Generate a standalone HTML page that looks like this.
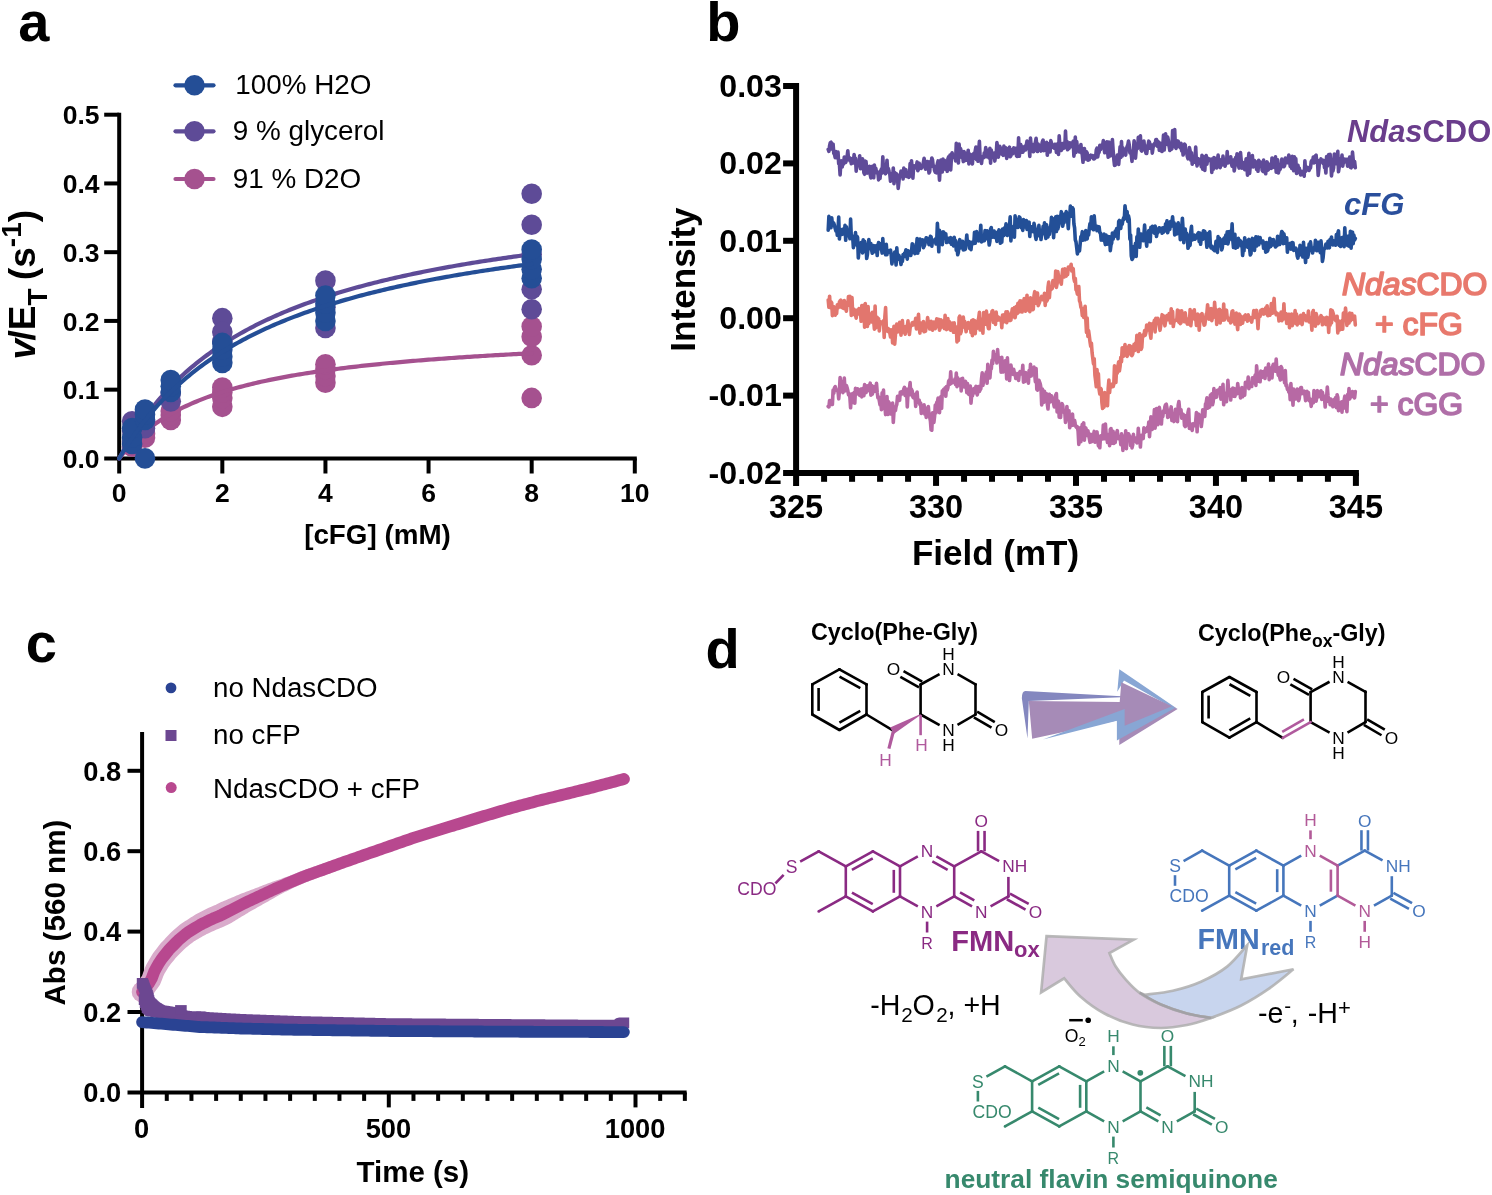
<!DOCTYPE html>
<html><head><meta charset="utf-8"><title>Figure</title>
<style>
html,body{margin:0;padding:0;background:#fff;}
svg{display:block;font-family:"Liberation Sans", Arial, Helvetica, sans-serif;will-change:transform;}
</style></head><body>
<svg width="1492" height="1195" viewBox="0 0 1492 1195">
<rect width="1492" height="1195" fill="#fff"/>
<text x="18.2" y="40.6" font-size="56" font-weight="bold" font-style="normal" text-anchor="start" fill="#000" >a</text>
<line x1="119.2" y1="112.7" x2="119.2" y2="473.5" stroke="#000" stroke-width="4" stroke-linecap="butt" />
<line x1="104.2" y1="458.4" x2="636.8" y2="458.4" stroke="#000" stroke-width="4" stroke-linecap="butt" />
<line x1="104.2" y1="389.66" x2="119.2" y2="389.66" stroke="#000" stroke-width="4" stroke-linecap="butt" />
<line x1="104.2" y1="320.92" x2="119.2" y2="320.92" stroke="#000" stroke-width="4" stroke-linecap="butt" />
<line x1="104.2" y1="252.18" x2="119.2" y2="252.18" stroke="#000" stroke-width="4" stroke-linecap="butt" />
<line x1="104.2" y1="183.44" x2="119.2" y2="183.44" stroke="#000" stroke-width="4" stroke-linecap="butt" />
<line x1="104.2" y1="114.7" x2="119.2" y2="114.7" stroke="#000" stroke-width="4" stroke-linecap="butt" />
<line x1="222.32" y1="458.4" x2="222.32" y2="473.5" stroke="#000" stroke-width="4" stroke-linecap="butt" />
<line x1="325.44" y1="458.4" x2="325.44" y2="473.5" stroke="#000" stroke-width="4" stroke-linecap="butt" />
<line x1="428.56" y1="458.4" x2="428.56" y2="473.5" stroke="#000" stroke-width="4" stroke-linecap="butt" />
<line x1="531.68" y1="458.4" x2="531.68" y2="473.5" stroke="#000" stroke-width="4" stroke-linecap="butt" />
<line x1="634.8" y1="458.4" x2="634.8" y2="473.5" stroke="#000" stroke-width="4" stroke-linecap="butt" />
<text x="99.6" y="468" font-size="26.5" font-weight="bold" font-style="normal" text-anchor="end" fill="#000" >0.0</text>
<text x="99.6" y="399.26" font-size="26.5" font-weight="bold" font-style="normal" text-anchor="end" fill="#000" >0.1</text>
<text x="99.6" y="330.52" font-size="26.5" font-weight="bold" font-style="normal" text-anchor="end" fill="#000" >0.2</text>
<text x="99.6" y="261.78" font-size="26.5" font-weight="bold" font-style="normal" text-anchor="end" fill="#000" >0.3</text>
<text x="99.6" y="193.04" font-size="26.5" font-weight="bold" font-style="normal" text-anchor="end" fill="#000" >0.4</text>
<text x="99.6" y="124.3" font-size="26.5" font-weight="bold" font-style="normal" text-anchor="end" fill="#000" >0.5</text>
<text x="119.2" y="502.3" font-size="26.5" font-weight="bold" font-style="normal" text-anchor="middle" fill="#000" >0</text>
<text x="222.32" y="502.3" font-size="26.5" font-weight="bold" font-style="normal" text-anchor="middle" fill="#000" >2</text>
<text x="325.44" y="502.3" font-size="26.5" font-weight="bold" font-style="normal" text-anchor="middle" fill="#000" >4</text>
<text x="428.56" y="502.3" font-size="26.5" font-weight="bold" font-style="normal" text-anchor="middle" fill="#000" >6</text>
<text x="531.68" y="502.3" font-size="26.5" font-weight="bold" font-style="normal" text-anchor="middle" fill="#000" >8</text>
<text x="634.8" y="502.3" font-size="26.5" font-weight="bold" font-style="normal" text-anchor="middle" fill="#000" >10</text>
<text x="377.5" y="544" font-size="27.8" font-weight="bold" font-style="normal" text-anchor="middle" fill="#000" >[cFG] (mM)</text>
<text transform="translate(35,359.5) rotate(-90)" font-size="37" font-weight="bold"><tspan font-style="italic">v</tspan><tspan dx="-1.5">/E</tspan><tspan font-size="28" dy="12">T</tspan><tspan dy="-12" dx="-2"> (s</tspan><tspan font-size="28" dy="-13.6">-1</tspan><tspan dy="13.6">)</tspan></text>
<circle cx="132.09" cy="446.71" r="10.3" fill="#A5518F"/>
<circle cx="132.09" cy="441.9" r="10.3" fill="#A5518F"/>
<circle cx="144.98" cy="437.78" r="10.3" fill="#A5518F"/>
<circle cx="144.98" cy="433.65" r="10.3" fill="#A5518F"/>
<circle cx="170.76" cy="419.91" r="10.3" fill="#A5518F"/>
<circle cx="170.76" cy="415.09" r="10.3" fill="#A5518F"/>
<circle cx="170.76" cy="410.97" r="10.3" fill="#A5518F"/>
<circle cx="222.32" cy="406.84" r="10.3" fill="#A5518F"/>
<circle cx="222.32" cy="397.91" r="10.3" fill="#A5518F"/>
<circle cx="222.32" cy="392.41" r="10.3" fill="#A5518F"/>
<circle cx="222.32" cy="387.6" r="10.3" fill="#A5518F"/>
<circle cx="325.44" cy="382.79" r="10.3" fill="#A5518F"/>
<circle cx="325.44" cy="375.91" r="10.3" fill="#A5518F"/>
<circle cx="325.44" cy="369.04" r="10.3" fill="#A5518F"/>
<circle cx="325.44" cy="364.23" r="10.3" fill="#A5518F"/>
<circle cx="531.68" cy="397.91" r="10.3" fill="#A5518F"/>
<circle cx="531.68" cy="355.29" r="10.3" fill="#A5518F"/>
<circle cx="531.68" cy="336.73" r="10.3" fill="#A5518F"/>
<circle cx="531.68" cy="326.42" r="10.3" fill="#A5518F"/>
<polyline points="119.2,458.4 121.78,455.12 124.36,452 126.93,449.03 129.51,446.19 132.09,443.49 134.67,440.91 137.25,438.44 139.82,436.07 142.4,433.81 144.98,431.64 147.56,429.55 150.14,427.55 152.71,425.62 155.29,423.77 157.87,421.99 160.45,420.27 163.03,418.61 165.6,417.01 168.18,415.47 170.76,413.98 173.34,412.54 175.92,411.14 178.49,409.79 181.07,408.49 183.65,407.22 186.23,406 188.81,404.81 191.38,403.65 193.96,402.54 196.54,401.45 199.12,400.39 201.7,399.37 204.27,398.37 206.85,397.4 209.43,396.46 212.01,395.54 214.59,394.65 217.16,393.78 219.74,392.93 222.32,392.1 224.9,391.3 227.48,390.51 230.05,389.74 232.63,389 235.21,388.27 237.79,387.55 240.37,386.86 242.94,386.18 245.52,385.51 248.1,384.86 250.68,384.23 253.26,383.6 255.83,383 258.41,382.4 260.99,381.82 263.57,381.25 266.15,380.69 268.72,380.14 271.3,379.61 273.88,379.08 276.46,378.57 279.04,378.07 281.61,377.57 284.19,377.09 286.77,376.61 289.35,376.15 291.93,375.69 294.5,375.24 297.08,374.8 299.66,374.37 302.24,373.95 304.82,373.53 307.39,373.12 309.97,372.72 312.55,372.32 315.13,371.94 317.71,371.55 320.28,371.18 322.86,370.81 325.44,370.45 328.02,370.09 330.6,369.74 333.17,369.4 335.75,369.06 338.33,368.73 340.91,368.4 343.49,368.08 346.06,367.76 348.64,367.45 351.22,367.14 353.8,366.83 356.38,366.54 358.95,366.24 361.53,365.95 364.11,365.67 366.69,365.39 369.27,365.11 371.84,364.84 374.42,364.57 377,364.3 379.58,364.04 382.16,363.78 384.73,363.53 387.31,363.28 389.89,363.03 392.47,362.79 395.05,362.55 397.62,362.31 400.2,362.08 402.78,361.85 405.36,361.62 407.94,361.4 410.51,361.18 413.09,360.96 415.67,360.74 418.25,360.53 420.83,360.32 423.4,360.11 425.98,359.91 428.56,359.71 431.14,359.51 433.72,359.31 436.29,359.11 438.87,358.92 441.45,358.73 444.03,358.54 446.61,358.36 449.18,358.17 451.76,357.99 454.34,357.81 456.92,357.64 459.5,357.46 462.07,357.29 464.65,357.12 467.23,356.95 469.81,356.78 472.39,356.62 474.96,356.46 477.54,356.3 480.12,356.14 482.7,355.98 485.28,355.82 487.85,355.67 490.43,355.52 493.01,355.36 495.59,355.22 498.17,355.07 500.74,354.92 503.32,354.78 505.9,354.63 508.48,354.49 511.06,354.35 513.63,354.21 516.21,354.08 518.79,353.94 521.37,353.81 523.95,353.68 526.52,353.54 529.1,353.41 531.68,353.28" fill="none" stroke="#A5518F" stroke-width="4.2" stroke-linejoin="round" stroke-linecap="round"/>
<circle cx="132.09" cy="421.28" r="10.3" fill="#5E4B97"/>
<circle cx="132.09" cy="430.9" r="10.3" fill="#5E4B97"/>
<circle cx="144.98" cy="428.15" r="10.3" fill="#5E4B97"/>
<circle cx="144.98" cy="420.59" r="10.3" fill="#5E4B97"/>
<circle cx="170.76" cy="401.35" r="10.3" fill="#5E4B97"/>
<circle cx="170.76" cy="393.1" r="10.3" fill="#5E4B97"/>
<circle cx="222.32" cy="318.17" r="10.3" fill="#5E4B97"/>
<circle cx="222.32" cy="331.92" r="10.3" fill="#5E4B97"/>
<circle cx="222.32" cy="341.54" r="10.3" fill="#5E4B97"/>
<circle cx="325.44" cy="280.64" r="10.3" fill="#5E4B97"/>
<circle cx="325.44" cy="328.07" r="10.3" fill="#5E4B97"/>
<circle cx="325.44" cy="307.17" r="10.3" fill="#5E4B97"/>
<circle cx="531.68" cy="193.75" r="10.3" fill="#5E4B97"/>
<circle cx="531.68" cy="224.68" r="10.3" fill="#5E4B97"/>
<circle cx="531.68" cy="254.24" r="10.3" fill="#5E4B97"/>
<circle cx="531.68" cy="289.3" r="10.3" fill="#5E4B97"/>
<circle cx="531.68" cy="309.23" r="10.3" fill="#5E4B97"/>
<polyline points="119.2,458.4 121.78,453.65 124.36,449.06 126.93,444.62 129.51,440.33 132.09,436.18 134.67,432.15 137.25,428.25 139.82,424.47 142.4,420.81 144.98,417.25 147.56,413.79 150.14,410.44 152.71,407.18 155.29,404.01 157.87,400.93 160.45,397.94 163.03,395.02 165.6,392.19 168.18,389.42 170.76,386.73 173.34,384.11 175.92,381.55 178.49,379.05 181.07,376.62 183.65,374.25 186.23,371.93 188.81,369.67 191.38,367.46 193.96,365.3 196.54,363.19 199.12,361.13 201.7,359.12 204.27,357.15 206.85,355.22 209.43,353.34 212.01,351.49 214.59,349.69 217.16,347.92 219.74,346.19 222.32,344.49 224.9,342.83 227.48,341.2 230.05,339.61 232.63,338.04 235.21,336.51 237.79,335.01 240.37,333.53 242.94,332.09 245.52,330.67 248.1,329.27 250.68,327.9 253.26,326.56 255.83,325.24 258.41,323.95 260.99,322.68 263.57,321.43 266.15,320.2 268.72,319 271.3,317.81 273.88,316.65 276.46,315.5 279.04,314.37 281.61,313.27 284.19,312.18 286.77,311.11 289.35,310.05 291.93,309.01 294.5,307.99 297.08,306.99 299.66,306 302.24,305.03 304.82,304.07 307.39,303.13 309.97,302.2 312.55,301.28 315.13,300.38 317.71,299.49 320.28,298.62 322.86,297.76 325.44,296.91 328.02,296.07 330.6,295.24 333.17,294.43 335.75,293.63 338.33,292.84 340.91,292.06 343.49,291.29 346.06,290.53 348.64,289.78 351.22,289.04 353.8,288.32 356.38,287.6 358.95,286.89 361.53,286.19 364.11,285.5 366.69,284.82 369.27,284.15 371.84,283.48 374.42,282.83 377,282.18 379.58,281.54 382.16,280.91 384.73,280.29 387.31,279.68 389.89,279.07 392.47,278.47 395.05,277.88 397.62,277.29 400.2,276.71 402.78,276.14 405.36,275.58 407.94,275.02 410.51,274.47 413.09,273.92 415.67,273.38 418.25,272.85 420.83,272.32 423.4,271.8 425.98,271.29 428.56,270.78 431.14,270.28 433.72,269.78 436.29,269.29 438.87,268.8 441.45,268.32 444.03,267.84 446.61,267.37 449.18,266.91 451.76,266.45 454.34,265.99 456.92,265.54 459.5,265.09 462.07,264.65 464.65,264.21 467.23,263.78 469.81,263.35 472.39,262.93 474.96,262.51 477.54,262.1 480.12,261.69 482.7,261.28 485.28,260.88 487.85,260.48 490.43,260.08 493.01,259.69 495.59,259.31 498.17,258.92 500.74,258.55 503.32,258.17 505.9,257.8 508.48,257.43 511.06,257.06 513.63,256.7 516.21,256.35 518.79,255.99 521.37,255.64 523.95,255.29 526.52,254.95 529.1,254.61 531.68,254.27" fill="none" stroke="#5E4B97" stroke-width="4.2" stroke-linejoin="round" stroke-linecap="round"/>
<circle cx="132.09" cy="443.96" r="10.3" fill="#244E96"/>
<circle cx="132.09" cy="437.78" r="10.3" fill="#244E96"/>
<circle cx="132.09" cy="428.15" r="10.3" fill="#244E96"/>
<circle cx="144.98" cy="458.4" r="10.3" fill="#244E96"/>
<circle cx="144.98" cy="419.91" r="10.3" fill="#244E96"/>
<circle cx="144.98" cy="414.41" r="10.3" fill="#244E96"/>
<circle cx="144.98" cy="409.59" r="10.3" fill="#244E96"/>
<circle cx="170.76" cy="392.07" r="10.3" fill="#244E96"/>
<circle cx="170.76" cy="386.22" r="10.3" fill="#244E96"/>
<circle cx="170.76" cy="380.04" r="10.3" fill="#244E96"/>
<circle cx="222.32" cy="362.85" r="10.3" fill="#244E96"/>
<circle cx="222.32" cy="356.66" r="10.3" fill="#244E96"/>
<circle cx="222.32" cy="349.79" r="10.3" fill="#244E96"/>
<circle cx="222.32" cy="342.92" r="10.3" fill="#244E96"/>
<circle cx="325.44" cy="320.92" r="10.3" fill="#244E96"/>
<circle cx="325.44" cy="312.67" r="10.3" fill="#244E96"/>
<circle cx="325.44" cy="303.74" r="10.3" fill="#244E96"/>
<circle cx="325.44" cy="295.49" r="10.3" fill="#244E96"/>
<circle cx="531.68" cy="278.3" r="10.3" fill="#244E96"/>
<circle cx="531.68" cy="269.37" r="10.3" fill="#244E96"/>
<circle cx="531.68" cy="259.05" r="10.3" fill="#244E96"/>
<circle cx="531.68" cy="249.43" r="10.3" fill="#244E96"/>
<polyline points="119.2,458.4 121.78,454.05 124.36,449.83 126.93,445.75 129.51,441.8 132.09,437.97 134.67,434.25 137.25,430.64 139.82,427.14 142.4,423.73 144.98,420.43 147.56,417.21 150.14,414.09 152.71,411.05 155.29,408.09 157.87,405.21 160.45,402.4 163.03,399.67 165.6,397.01 168.18,394.41 170.76,391.88 173.34,389.41 175.92,387 178.49,384.64 181.07,382.35 183.65,380.1 186.23,377.91 188.81,375.77 191.38,373.68 193.96,371.63 196.54,369.63 199.12,367.67 201.7,365.76 204.27,363.88 206.85,362.05 209.43,360.25 212.01,358.49 214.59,356.77 217.16,355.08 219.74,353.43 222.32,351.81 224.9,350.22 227.48,348.66 230.05,347.13 232.63,345.63 235.21,344.16 237.79,342.72 240.37,341.3 242.94,339.91 245.52,338.54 248.1,337.2 250.68,335.89 253.26,334.59 255.83,333.32 258.41,332.08 260.99,330.85 263.57,329.65 266.15,328.46 268.72,327.3 271.3,326.15 273.88,325.02 276.46,323.92 279.04,322.83 281.61,321.75 284.19,320.7 286.77,319.66 289.35,318.64 291.93,317.63 294.5,316.64 297.08,315.67 299.66,314.71 302.24,313.76 304.82,312.83 307.39,311.92 309.97,311.01 312.55,310.12 315.13,309.25 317.71,308.38 320.28,307.53 322.86,306.69 325.44,305.86 328.02,305.05 330.6,304.24 333.17,303.45 335.75,302.67 338.33,301.89 340.91,301.13 343.49,300.38 346.06,299.64 348.64,298.91 351.22,298.19 353.8,297.48 356.38,296.78 358.95,296.08 361.53,295.4 364.11,294.72 366.69,294.06 369.27,293.4 371.84,292.75 374.42,292.11 377,291.47 379.58,290.85 382.16,290.23 384.73,289.62 387.31,289.01 389.89,288.42 392.47,287.83 395.05,287.25 397.62,286.67 400.2,286.1 402.78,285.54 405.36,284.99 407.94,284.44 410.51,283.9 413.09,283.36 415.67,282.83 418.25,282.31 420.83,281.79 423.4,281.28 425.98,280.77 428.56,280.27 431.14,279.77 433.72,279.28 436.29,278.8 438.87,278.32 441.45,277.85 444.03,277.38 446.61,276.91 449.18,276.45 451.76,276 454.34,275.55 456.92,275.11 459.5,274.67 462.07,274.23 464.65,273.8 467.23,273.37 469.81,272.95 472.39,272.53 474.96,272.12 477.54,271.71 480.12,271.3 482.7,270.9 485.28,270.5 487.85,270.11 490.43,269.72 493.01,269.33 495.59,268.95 498.17,268.57 500.74,268.2 503.32,267.82 505.9,267.46 508.48,267.09 511.06,266.73 513.63,266.37 516.21,266.02 518.79,265.67 521.37,265.32 523.95,264.97 526.52,264.63 529.1,264.29 531.68,263.96" fill="none" stroke="#244E96" stroke-width="4.2" stroke-linejoin="round" stroke-linecap="round"/>
<line x1="175.5" y1="85.3" x2="213.5" y2="85.3" stroke="#244E96" stroke-width="4.2" stroke-linecap="round" />
<circle cx="194.5" cy="85.3" r="10.3" fill="#244E96"/>
<text x="235.2" y="94.2" font-size="27.85" font-weight="normal" font-style="normal" text-anchor="start" fill="#000" >100% H2O</text>
<line x1="175.5" y1="131.3" x2="213.5" y2="131.3" stroke="#5E4B97" stroke-width="4.2" stroke-linecap="round" />
<circle cx="194.5" cy="131.3" r="10.3" fill="#5E4B97"/>
<text x="232.8" y="140" font-size="27.85" font-weight="normal" font-style="normal" text-anchor="start" fill="#000" >9 % glycerol</text>
<line x1="175.5" y1="179" x2="213.5" y2="179" stroke="#A5518F" stroke-width="4.2" stroke-linecap="round" />
<circle cx="194.5" cy="179" r="10.3" fill="#A5518F"/>
<text x="232.8" y="188" font-size="27.85" font-weight="normal" font-style="normal" text-anchor="start" fill="#000" >91 % D2O</text>
<text x="706.2" y="40.6" font-size="56" font-weight="bold" font-style="normal" text-anchor="start" fill="#000" >b</text>
<polyline points="828.2,149.34 828.9,151.35 829.6,145.63 830.3,142.67 831,142.23 831.7,149.05 832.4,144.98 833.1,144.1 833.8,153.48 834.5,154.35 835.2,157.62 835.9,151.51 836.6,157.3 837.3,158.15 838,152.15 838.7,163.56 839.4,163.68 840.1,174.95 840.8,163.31 841.5,160.88 842.2,167.06 842.9,161.19 843.6,164.05 844.3,156.97 845,159.19 845.7,162.52 846.4,160.18 847.1,156.64 847.8,150.7 848.5,158.77 849.2,157.37 849.9,161.02 850.6,158.93 851.3,163.73 852,158.46 852.7,160.17 853.4,162.93 854.1,154.59 854.8,158.45 855.5,158.4 856.2,171.24 856.9,161.3 857.6,165.46 858.3,165.73 859,161.67 859.7,155.75 860.4,168.77 861.1,162.34 861.8,168.4 862.5,158.81 863.2,163.73 863.9,172.79 864.6,174.25 865.3,161.16 866,161.6 866.7,168.63 867.4,173.07 868.1,170.82 868.8,172.12 869.5,166.24 870.2,174.71 870.9,177.94 871.6,170.77 872.3,166.36 873,170.32 873.7,177.81 874.4,165.1 875.1,173.07 875.8,168.34 876.5,172.41 877.2,171.61 877.9,172.68 878.6,179.87 879.3,174.24 880,178.57 880.7,170.96 881.4,169.04 882.1,173.09 882.8,156.79 883.5,170.53 884.2,171.3 884.9,164.83 885.6,173.83 886.3,169.21 887,160.22 887.7,171.95 888.4,168.62 889.1,171.42 889.8,173.76 890.5,181.28 891.2,176.05 891.9,175.89 892.6,178.48 893.3,167.98 894,183.74 894.7,172.66 895.4,180.75 896.1,173.42 896.8,174.67 897.5,177.36 898.2,188.33 898.9,181.84 899.6,174.84 900.3,175.94 901,171.11 901.7,176.2 902.4,173.01 903.1,178.99 903.8,168.1 904.5,172.72 905.2,169.69 905.9,169.81 906.6,176.46 907.3,173.04 908,174.84 908.7,177.37 909.4,176.67 910.1,163.57 910.8,172.65 911.5,160.68 912.2,168.7 912.9,178.14 913.6,167.11 914.3,165.76 915,167.99 915.7,166.76 916.4,166.33 917.1,161.94 917.8,170.66 918.5,169.23 919.2,163.25 919.9,165.41 920.6,166.66 921.3,168.32 922,165.26 922.7,166.92 923.4,162.27 924.1,158.38 924.8,161.39 925.5,169.1 926.2,169.03 926.9,165.02 927.6,161.59 928.3,166.11 929,173.03 929.7,171.62 930.4,161.57 931.1,164.91 931.8,158.01 932.5,159.73 933.2,166.49 933.9,165.82 934.6,170.66 935.3,172.31 936,170.29 936.7,172.86 937.4,163.66 938.1,160.89 938.8,169.18 939.5,180.12 940.2,168.02 940.9,159.99 941.6,166.47 942.3,171.89 943,159.1 943.7,167.8 944.4,160.24 945.1,169.17 945.8,166.24 946.5,163.34 947.2,171.33 947.9,158.8 948.6,156.92 949.3,169.13 950,154.99 950.7,169.87 951.4,158.19 952.1,152.71 952.8,157.4 953.5,157.57 954.2,157.43 954.9,154.97 955.6,160.85 956.3,143.35 957,151.69 957.7,152.66 958.4,163.05 959.1,144.05 959.8,152.37 960.5,148.42 961.2,150.87 961.9,157.45 962.6,156.37 963.3,161.57 964,151.44 964.7,155.84 965.4,160.42 966.1,159.13 966.8,152.99 967.5,160.37 968.2,150.18 968.9,163.87 969.6,155.69 970.3,154.41 971,156.39 971.7,159.34 972.4,163.86 973.1,154.51 973.8,153.44 974.5,158.27 975.2,151.04 975.9,146.98 976.6,159.7 977.3,153.68 978,161.27 978.7,150.56 979.4,141.28 980.1,157.16 980.8,156.35 981.5,163.4 982.2,157.85 982.9,156.6 983.6,157.81 984.3,152.86 985,154.91 985.7,147.59 986.4,156.77 987.1,149.97 987.8,151.6 988.5,157.15 989.2,158.05 989.9,148.26 990.6,163.14 991.3,149.99 992,156.95 992.7,157.36 993.4,153.55 994.1,153.11 994.8,161.07 995.5,156.39 996.2,154.02 996.9,142.53 997.6,147.78 998.3,157.19 999,152.2 999.7,146.31 1000.4,147.74 1001.1,149.28 1001.8,154.09 1002.5,152.46 1003.2,155.37 1003.9,146.15 1004.6,155.03 1005.3,147.45 1006,148.32 1006.7,158.34 1007.4,149.9 1008.1,148.69 1008.8,148.2 1009.5,147.18 1010.2,156.76 1010.9,155.71 1011.6,152.27 1012.3,149.46 1013,153.61 1013.7,147.87 1014.4,150.38 1015.1,149.99 1015.8,148.28 1016.5,155.94 1017.2,156.34 1017.9,154.04 1018.6,137.71 1019.3,156.32 1020,150.51 1020.7,144.61 1021.4,146.6 1022.1,152.27 1022.8,152.31 1023.5,150.58 1024.2,146.86 1024.9,146.2 1025.6,150.04 1026.3,145.28 1027,141.11 1027.7,142.34 1028.4,144.62 1029.1,146.84 1029.8,156.36 1030.5,138.05 1031.2,147.15 1031.9,144.28 1032.6,146.32 1033.3,151.66 1034,151.17 1034.7,144.24 1035.4,142.31 1036.1,138.36 1036.8,144.89 1037.5,151.55 1038.2,144.07 1038.9,148.98 1039.6,149.08 1040.3,147.59 1041,151.1 1041.7,145.19 1042.4,141.68 1043.1,140.04 1043.8,150.6 1044.5,144.23 1045.2,144.56 1045.9,150.36 1046.6,142.31 1047.3,155.18 1048,149.73 1048.7,143.84 1049.4,143.38 1050.1,151.99 1050.8,140.6 1051.5,143.26 1052.2,146.43 1052.9,147.36 1053.6,146.36 1054.3,148.16 1055,144.34 1055.7,145.49 1056.4,152.37 1057.1,149.21 1057.8,143.67 1058.5,154.43 1059.2,135.85 1059.9,146.16 1060.6,149.02 1061.3,150.48 1062,146.12 1062.7,143.58 1063.4,148.37 1064.1,144.41 1064.8,147.69 1065.5,130.98 1066.2,147.11 1066.9,141.19 1067.6,149.78 1068.3,148.76 1069,148.6 1069.7,142.88 1070.4,147.01 1071.1,143.07 1071.8,145.79 1072.5,144.42 1073.2,141.3 1073.9,156.09 1074.6,150.38 1075.3,137.04 1076,152.35 1076.7,141.46 1077.4,147.83 1078.1,146.64 1078.8,147.43 1079.5,151.86 1080.2,149.59 1080.9,144.53 1081.6,152.3 1082.3,154.71 1083,162.29 1083.7,151.92 1084.4,148.61 1085.1,153.21 1085.8,158.93 1086.5,151.8 1087.2,153.17 1087.9,160.1 1088.6,157.83 1089.3,159.56 1090,155.86 1090.7,155.09 1091.4,156.99 1092.1,157.22 1092.8,155.7 1093.5,158.91 1094.2,158.87 1094.9,158.26 1095.6,157.29 1096.3,149.85 1097,148.07 1097.7,157.05 1098.4,152.49 1099.1,152.42 1099.8,145.39 1100.5,149.52 1101.2,146.77 1101.9,145.01 1102.6,145.57 1103.3,140.63 1104,147.91 1104.7,152.69 1105.4,143.23 1106.1,147.54 1106.8,141.9 1107.5,151.02 1108.2,157.28 1108.9,142.09 1109.6,147.42 1110.3,155.97 1111,150.99 1111.7,150.02 1112.4,139.53 1113.1,149.79 1113.8,158.95 1114.5,165.36 1115.2,165.21 1115.9,162.92 1116.6,163.42 1117.3,155.07 1118,156.11 1118.7,164.42 1119.4,155.55 1120.1,146.75 1120.8,157.36 1121.5,141.5 1122.2,155.98 1122.9,147.88 1123.6,151 1124.3,152.52 1125,150.25 1125.7,155.1 1126.4,148.64 1127.1,146.75 1127.8,144.98 1128.5,140.96 1129.2,144.61 1129.9,152.9 1130.6,152.01 1131.3,154.75 1132,161.33 1132.7,151.16 1133.4,149.99 1134.1,140.81 1134.8,146.08 1135.5,158.17 1136.2,149.74 1136.9,146.3 1137.6,148.44 1138.3,137.31 1139,142.52 1139.7,140.05 1140.4,135.8 1141.1,150.24 1141.8,151.12 1142.5,145.31 1143.2,147.83 1143.9,140.96 1144.6,148.16 1145.3,149.61 1146,153.37 1146.7,153.4 1147.4,147.93 1148.1,144.76 1148.8,141.17 1149.5,142.17 1150.2,148.18 1150.9,147.83 1151.6,144.99 1152.3,153.12 1153,147.94 1153.7,144.72 1154.4,143.63 1155.1,144.92 1155.8,139.73 1156.5,139.51 1157.2,146.09 1157.9,141.37 1158.6,142.89 1159.3,150.29 1160,143.16 1160.7,150.64 1161.4,143.97 1162.1,151.54 1162.8,146.22 1163.5,135.05 1164.2,149.98 1164.9,142.69 1165.6,133.85 1166.3,144.18 1167,144.33 1167.7,137.04 1168.4,140.4 1169.1,146.12 1169.8,150.39 1170.5,148.97 1171.2,149.32 1171.9,148.76 1172.6,130.67 1173.3,139.41 1174,143.92 1174.7,129.48 1175.4,147.12 1176.1,148.36 1176.8,140.67 1177.5,143.28 1178.2,141.13 1178.9,146.37 1179.6,146.9 1180.3,147.71 1181,143.27 1181.7,150.96 1182.4,147.96 1183.1,155.05 1183.8,152.51 1184.5,144.16 1185.2,145.01 1185.9,153.21 1186.6,151.07 1187.3,156.49 1188,158.81 1188.7,155.52 1189.4,147.63 1190.1,150.72 1190.8,160.2 1191.5,152.72 1192.2,164.16 1192.9,158.8 1193.6,162.49 1194.3,156.11 1195,160.67 1195.7,147.01 1196.4,161.41 1197.1,165.88 1197.8,158.59 1198.5,158.92 1199.2,162.93 1199.9,163.59 1200.6,159.29 1201.3,166.77 1202,155.23 1202.7,169.09 1203.4,156.56 1204.1,159.53 1204.8,170.37 1205.5,158.8 1206.2,155.57 1206.9,164.28 1207.6,159.37 1208.3,158.44 1209,160.58 1209.7,160.44 1210.4,159.34 1211.1,159.14 1211.8,172.41 1212.5,161.05 1213.2,169.33 1213.9,157.51 1214.6,167.32 1215.3,158.41 1216,162.43 1216.7,167.97 1217.4,162.2 1218.1,155.09 1218.8,162.22 1219.5,164.13 1220.2,167.67 1220.9,159.7 1221.6,163.08 1222.3,164.77 1223,156.1 1223.7,163.69 1224.4,159.97 1225.1,166.19 1225.8,163.33 1226.5,162.93 1227.2,151.58 1227.9,162.99 1228.6,161.57 1229.3,158.59 1230,160.64 1230.7,156.76 1231.4,163.83 1232.1,166.14 1232.8,165.72 1233.5,160.02 1234.2,170.9 1234.9,166.66 1235.6,157.53 1236.3,161.46 1237,153.89 1237.7,161.33 1238.4,165.37 1239.1,168.04 1239.8,159.49 1240.5,152.52 1241.2,160.5 1241.9,168.18 1242.6,162.22 1243.3,168.01 1244,165.9 1244.7,169.7 1245.4,165.02 1246.1,158.84 1246.8,164.52 1247.5,175.11 1248.2,159.96 1248.9,153.4 1249.6,173.33 1250.3,164.98 1251,159.94 1251.7,160.17 1252.4,155.63 1253.1,166.98 1253.8,164.31 1254.5,160.56 1255.2,161.74 1255.9,161.85 1256.6,169.45 1257.3,163.33 1258,171.28 1258.7,160.32 1259.4,161.58 1260.1,162.35 1260.8,162.2 1261.5,164.57 1262.2,170.29 1262.9,171.34 1263.6,160.06 1264.3,171.94 1265,166.16 1265.7,173.76 1266.4,165.1 1267.1,161.89 1267.8,170.15 1268.5,169.45 1269.2,164.17 1269.9,166.71 1270.6,167.38 1271.3,168.28 1272,157.97 1272.7,160.33 1273.4,166.46 1274.1,167.3 1274.8,163.2 1275.5,156.83 1276.2,172.17 1276.9,163.73 1277.6,159.86 1278.3,172.89 1279,170.39 1279.7,169.74 1280.4,168.54 1281.1,167.03 1281.8,159.14 1282.5,163.98 1283.2,165.42 1283.9,166.63 1284.6,165.66 1285.3,158.06 1286,160.1 1286.7,161.75 1287.4,162.72 1288.1,159.62 1288.8,155.15 1289.5,158.48 1290.2,166.38 1290.9,165.08 1291.6,168.32 1292.3,156.27 1293,163.91 1293.7,170.73 1294.4,156.75 1295.1,161.44 1295.8,158.81 1296.5,173.48 1297.2,167.87 1297.9,165.13 1298.6,169.04 1299.3,168.12 1300,173.39 1300.7,174.99 1301.4,174.01 1302.1,171.44 1302.8,173.82 1303.5,174.36 1304.2,176.23 1304.9,160.87 1305.6,171.43 1306.3,169.74 1307,169.8 1307.7,167.4 1308.4,167.93 1309.1,170.42 1309.8,168.6 1310.5,167.89 1311.2,161.54 1311.9,160.27 1312.6,162.46 1313.3,156.94 1314,162.92 1314.7,160.9 1315.4,155.95 1316.1,155.12 1316.8,162.35 1317.5,161.68 1318.2,175.33 1318.9,168.66 1319.6,160.32 1320.3,161.61 1321,158.94 1321.7,159.93 1322.4,162 1323.1,163.39 1323.8,160.4 1324.5,167.51 1325.2,166.51 1325.9,172.95 1326.6,156.5 1327.3,166.31 1328,160.94 1328.7,154.67 1329.4,161.07 1330.1,154.25 1330.8,162.21 1331.5,175.91 1332.2,168.63 1332.9,171.09 1333.6,167.84 1334.3,154.01 1335,163.7 1335.7,162.23 1336.4,163.57 1337.1,156.11 1337.8,151.39 1338.5,171.82 1339.2,167.26 1339.9,162.84 1340.6,158.85 1341.3,162.21 1342,155.1 1342.7,166.1 1343.4,162.12 1344.1,160.55 1344.8,159.15 1345.5,160.97 1346.2,161.96 1346.9,159.29 1347.6,166.11 1348.3,162.35 1349,160.83 1349.7,156.99 1350.4,167.39 1351.1,167.78 1351.8,164.74 1352.5,152.08 1353.2,159.56 1353.9,166.26 1354.6,161.48 1355.3,167.68" fill="none" stroke="#5F4B99" stroke-width="3.6" stroke-linejoin="round" stroke-linecap="round"/>
<polyline points="828.2,230.09 828.9,216.36 829.6,222.92 830.3,222.94 831,227.66 831.7,217.74 832.4,223.95 833.1,223.54 833.8,223.19 834.5,225.61 835.2,228.54 835.9,230.94 836.6,228.57 837.3,235.21 838,230.36 838.7,217.11 839.4,239.05 840.1,231.14 840.8,229.38 841.5,234.44 842.2,234.25 842.9,233.36 843.6,228.83 844.3,234.06 845,225.41 845.7,240.32 846.4,226.77 847.1,232.07 847.8,233.82 848.5,235.7 849.2,234.25 849.9,238.77 850.6,219.06 851.3,236.94 852,237.54 852.7,237.04 853.4,247.74 854.1,236.08 854.8,241.42 855.5,232.53 856.2,244.95 856.9,236.32 857.6,237.45 858.3,258.06 859,250.62 859.7,247.92 860.4,249.7 861.1,242.45 861.8,245.28 862.5,252.85 863.2,239.85 863.9,251.74 864.6,241.41 865.3,250.63 866,244.21 866.7,258.55 867.4,254.64 868.1,246.7 868.8,239.56 869.5,244.98 870.2,248.5 870.9,243.58 871.6,249.88 872.3,253.29 873,247.81 873.7,245.71 874.4,251.71 875.1,246.07 875.8,251.7 876.5,245.6 877.2,255.51 877.9,246.17 878.6,242.49 879.3,248.64 880,245.22 880.7,243.95 881.4,248.36 882.1,253.09 882.8,238.58 883.5,249.62 884.2,249.36 884.9,249.67 885.6,254.78 886.3,244.35 887,254.63 887.7,250.4 888.4,252.41 889.1,251.01 889.8,250.74 890.5,250.04 891.2,255.09 891.9,263.97 892.6,258.93 893.3,258.2 894,256.99 894.7,252.02 895.4,257.68 896.1,264.97 896.8,247.77 897.5,258.32 898.2,259.1 898.9,255.22 899.6,257.62 900.3,260.52 901,264.53 901.7,259.76 902.4,261.38 903.1,254.51 903.8,256.86 904.5,253.38 905.2,253.83 905.9,249.83 906.6,255.45 907.3,259.19 908,250.88 908.7,252.8 909.4,254.51 910.1,251.25 910.8,255.44 911.5,251.54 912.2,243.87 912.9,244.12 913.6,252.55 914.3,251.6 915,253.54 915.7,248.77 916.4,248.07 917.1,238.62 917.8,253.18 918.5,241.01 919.2,250.47 919.9,238.98 920.6,240.94 921.3,244.69 922,241.48 922.7,239.82 923.4,247.6 924.1,246.21 924.8,244.52 925.5,240.54 926.2,237.81 926.9,239.29 927.6,238.77 928.3,241.01 929,244.73 929.7,239.73 930.4,236.32 931.1,236.91 931.8,246.2 932.5,240.3 933.2,240.38 933.9,240.33 934.6,241.63 935.3,239.07 936,244.02 936.7,241.91 937.4,223.3 938.1,236.58 938.8,251.82 939.5,230.35 940.2,237.72 940.9,242.79 941.6,237.65 942.3,244.65 943,231.87 943.7,232.22 944.4,237.84 945.1,235.37 945.8,233.96 946.5,242.5 947.2,241.28 947.9,240.26 948.6,238.46 949.3,242.1 950,240.45 950.7,237.68 951.4,244.19 952.1,243.77 952.8,242.59 953.5,245.95 954.2,237.21 954.9,242.31 955.6,240.69 956.3,250.26 957,246.42 957.7,254.75 958.4,252.35 959.1,242.98 959.8,239.7 960.5,247.93 961.2,244.44 961.9,245.4 962.6,241.23 963.3,249.88 964,248.15 964.7,249.57 965.4,249.15 966.1,242.39 966.8,235.01 967.5,244.16 968.2,241.64 968.9,241.48 969.6,248.23 970.3,242.24 971,249.59 971.7,242.25 972.4,244.09 973.1,242.49 973.8,243.29 974.5,232.27 975.2,243.32 975.9,237.71 976.6,231.59 977.3,238.85 978,236.82 978.7,240.83 979.4,237.35 980.1,234.97 980.8,225.24 981.5,242.04 982.2,241.36 982.9,238.06 983.6,236.75 984.3,240.8 985,230.63 985.7,238.74 986.4,235.61 987.1,230.74 987.8,237.86 988.5,238.04 989.2,245.06 989.9,241.52 990.6,229.05 991.3,227.52 992,237.2 992.7,236.81 993.4,233.43 994.1,231.08 994.8,237.56 995.5,232.25 996.2,234.09 996.9,241.36 997.6,237.75 998.3,232.29 999,229.95 999.7,234.14 1000.4,243.25 1001.1,231.55 1001.8,242.25 1002.5,229.16 1003.2,231.56 1003.9,235.59 1004.6,227.76 1005.3,231.4 1006,223.86 1006.7,233.45 1007.4,235.44 1008.1,225.9 1008.8,229.59 1009.5,226.12 1010.2,216.88 1010.9,240.9 1011.6,229.83 1012.3,230.33 1013,227.64 1013.7,226.33 1014.4,237.08 1015.1,215.86 1015.8,223.19 1016.5,222.42 1017.2,223.24 1017.9,227.53 1018.6,220.21 1019.3,216.94 1020,217.7 1020.7,225.39 1021.4,227.63 1022.1,226.68 1022.8,230.39 1023.5,219.57 1024.2,227.16 1024.9,226.32 1025.6,222.76 1026.3,220.52 1027,229.37 1027.7,222.27 1028.4,224.9 1029.1,222.2 1029.8,236.49 1030.5,228.19 1031.2,226.65 1031.9,228.6 1032.6,229.4 1033.3,231.68 1034,223.39 1034.7,226.81 1035.4,235.85 1036.1,239.43 1036.8,229.65 1037.5,235.97 1038.2,233.22 1038.9,225.41 1039.6,234.71 1040.3,230.31 1041,239.57 1041.7,233.63 1042.4,233.96 1043.1,226.3 1043.8,233.81 1044.5,222.82 1045.2,233.13 1045.9,238.4 1046.6,224.91 1047.3,234.71 1048,236.95 1048.7,228.39 1049.4,234.45 1050.1,228.75 1050.8,225.34 1051.5,217.22 1052.2,221.35 1052.9,218.78 1053.6,237.61 1054.3,226.3 1055,223.44 1055.7,216.86 1056.4,231.55 1057.1,216.42 1057.8,228.98 1058.5,226.29 1059.2,220.53 1059.9,216.17 1060.6,218.55 1061.3,211.67 1062,221.34 1062.7,226.3 1063.4,222.12 1064.1,222.69 1064.8,213.72 1065.5,218.54 1066.2,211.66 1066.9,214.32 1067.6,220.01 1068.3,228.68 1069,216.28 1069.7,215.89 1070.4,206.01 1071.1,216.16 1071.8,210.51 1072.5,207.82 1073.2,209.13 1073.9,223.92 1074.6,227.83 1075.3,239.84 1076,241.89 1076.7,247.49 1077.4,253.86 1078.1,249.54 1078.8,248.36 1079.5,250.91 1080.2,243.61 1080.9,236.55 1081.6,236.53 1082.3,231.68 1083,240.29 1083.7,235.49 1084.4,239.09 1085.1,239.71 1085.8,230.45 1086.5,234.45 1087.2,238.87 1087.9,231.87 1088.6,235.07 1089.3,228.36 1090,223.53 1090.7,226.09 1091.4,216.74 1092.1,228.71 1092.8,221.5 1093.5,229.8 1094.2,215.81 1094.9,224.32 1095.6,227.1 1096.3,226.05 1097,230.67 1097.7,226.64 1098.4,226.73 1099.1,226.74 1099.8,232.66 1100.5,233.1 1101.2,240.08 1101.9,238.72 1102.6,238.94 1103.3,240.26 1104,234.11 1104.7,241.23 1105.4,244.56 1106.1,235.15 1106.8,239.97 1107.5,244.07 1108.2,236.56 1108.9,240.43 1109.6,236.7 1110.3,250.65 1111,244.71 1111.7,243.03 1112.4,233 1113.1,239.13 1113.8,234.42 1114.5,236.47 1115.2,231.14 1115.9,234.24 1116.6,228.63 1117.3,232.63 1118,238.69 1118.7,221.48 1119.4,220.39 1120.1,228.25 1120.8,228.35 1121.5,221.07 1122.2,224.13 1122.9,220.3 1123.6,217.94 1124.3,219.14 1125,205.85 1125.7,211.37 1126.4,212.65 1127.1,211.73 1127.8,221.37 1128.5,215.82 1129.2,219.41 1129.9,239.23 1130.6,234.97 1131.3,256 1132,259.51 1132.7,258.4 1133.4,256.32 1134.1,246.4 1134.8,254.27 1135.5,243.26 1136.2,256.49 1136.9,236.87 1137.6,244.32 1138.3,228.97 1139,239.92 1139.7,247.31 1140.4,237.14 1141.1,234.07 1141.8,234.68 1142.5,238.45 1143.2,240.71 1143.9,234.62 1144.6,225.03 1145.3,236.7 1146,239.74 1146.7,246.17 1147.4,234.93 1148.1,234.6 1148.8,230.61 1149.5,236.85 1150.2,241.71 1150.9,227.22 1151.6,232.39 1152.3,226.31 1153,227.76 1153.7,229.98 1154.4,233.09 1155.1,225.95 1155.8,228.36 1156.5,236.51 1157.2,231.85 1157.9,232.66 1158.6,230.95 1159.3,227.77 1160,230.71 1160.7,231.05 1161.4,228.21 1162.1,233.29 1162.8,227.88 1163.5,232.29 1164.2,227.62 1164.9,231.07 1165.6,223.71 1166.3,224.11 1167,220.88 1167.7,232.78 1168.4,229.06 1169.1,227.36 1169.8,229.27 1170.5,221.68 1171.2,226.26 1171.9,223.31 1172.6,216.8 1173.3,225.39 1174,222.71 1174.7,234.89 1175.4,224.19 1176.1,225.26 1176.8,233.87 1177.5,229.22 1178.2,222.86 1178.9,231.28 1179.6,226.67 1180.3,239.69 1181,225.95 1181.7,227.99 1182.4,218.18 1183.1,229.18 1183.8,242.64 1184.5,232.83 1185.2,228.98 1185.9,235.79 1186.6,233.24 1187.3,234.94 1188,248.32 1188.7,246.31 1189.4,244.59 1190.1,245.26 1190.8,231.85 1191.5,226.38 1192.2,240.02 1192.9,238.07 1193.6,236.09 1194.3,235.08 1195,239.2 1195.7,238.24 1196.4,236.5 1197.1,237.51 1197.8,233.78 1198.5,232.74 1199.2,241.61 1199.9,233.02 1200.6,244.31 1201.3,237.25 1202,234.08 1202.7,239.33 1203.4,230.88 1204.1,232.27 1204.8,231.5 1205.5,234.35 1206.2,238.98 1206.9,247.26 1207.6,240.39 1208.3,233.38 1209,235.73 1209.7,231.8 1210.4,245.92 1211.1,247.81 1211.8,246.13 1212.5,247.4 1213.2,249.36 1213.9,249.97 1214.6,250.62 1215.3,248.01 1216,241.35 1216.7,250.75 1217.4,252.31 1218.1,236.61 1218.8,243.35 1219.5,238.26 1220.2,246.21 1220.9,241.68 1221.6,249.97 1222.3,247.91 1223,239.37 1223.7,238.84 1224.4,237.83 1225.1,243.31 1225.8,235.12 1226.5,241.67 1227.2,231.82 1227.9,243.86 1228.6,240.48 1229.3,231.64 1230,233.1 1230.7,237.7 1231.4,239.12 1232.1,223.75 1232.8,240.12 1233.5,247.52 1234.2,238.19 1234.9,234.25 1235.6,248.12 1236.3,243.81 1237,244.28 1237.7,247.14 1238.4,238.39 1239.1,241.94 1239.8,240.29 1240.5,240.96 1241.2,245.84 1241.9,242.17 1242.6,255.47 1243.3,249.46 1244,250.78 1244.7,237.71 1245.4,244.74 1246.1,244.72 1246.8,245.98 1247.5,247.1 1248.2,240.37 1248.9,239.43 1249.6,248.66 1250.3,254.97 1251,253.72 1251.7,241.29 1252.4,238.38 1253.1,243.01 1253.8,244.12 1254.5,250.4 1255.2,239.82 1255.9,236.86 1256.6,246.01 1257.3,237.43 1258,237.21 1258.7,244.79 1259.4,241.54 1260.1,237.6 1260.8,242.11 1261.5,241.8 1262.2,243.24 1262.9,241.07 1263.6,248.28 1264.3,243.96 1265,243.17 1265.7,252.12 1266.4,242.44 1267.1,251.49 1267.8,250.4 1268.5,245.36 1269.2,247.45 1269.9,238.24 1270.6,246.56 1271.3,239.5 1272,239.86 1272.7,245.06 1273.4,239.46 1274.1,243.35 1274.8,244.25 1275.5,246.96 1276.2,243.14 1276.9,245.88 1277.6,236.24 1278.3,237.66 1279,242.31 1279.7,244.5 1280.4,240.26 1281.1,234.74 1281.8,231.47 1282.5,232.43 1283.2,243.67 1283.9,233.68 1284.6,238.17 1285.3,243.27 1286,242.97 1286.7,237.87 1287.4,252.25 1288.1,243.67 1288.8,244.96 1289.5,248.36 1290.2,243.34 1290.9,249.14 1291.6,245.61 1292.3,242.52 1293,242.89 1293.7,250.34 1294.4,249.61 1295.1,249 1295.8,248.19 1296.5,249.94 1297.2,255.92 1297.9,258.15 1298.6,252.01 1299.3,255.3 1300,245.28 1300.7,249.22 1301.4,250.94 1302.1,249.38 1302.8,256.97 1303.5,242.39 1304.2,254.88 1304.9,255.34 1305.6,262.51 1306.3,248.36 1307,252.61 1307.7,257.27 1308.4,254 1309.1,244.01 1309.8,246.44 1310.5,241.9 1311.2,247.53 1311.9,250.11 1312.6,252.99 1313.3,248.43 1314,249.6 1314.7,249.9 1315.4,240.25 1316.1,248.47 1316.8,250.68 1317.5,245.55 1318.2,242.33 1318.9,248.62 1319.6,249.32 1320.3,252.71 1321,240.89 1321.7,248.74 1322.4,261.47 1323.1,257.62 1323.8,249.84 1324.5,248.6 1325.2,248.2 1325.9,244.15 1326.6,246.21 1327.3,247.77 1328,241.41 1328.7,246.54 1329.4,247.75 1330.1,239.43 1330.8,243.08 1331.5,237.02 1332.2,244.52 1332.9,244.89 1333.6,240.66 1334.3,243.1 1335,244.99 1335.7,245.12 1336.4,234.45 1337.1,239.03 1337.8,233.2 1338.5,230.87 1339.2,245.42 1339.9,244.05 1340.6,246.53 1341.3,243.94 1342,237.48 1342.7,241 1343.4,237.14 1344.1,246.62 1344.8,227.88 1345.5,241.67 1346.2,236.78 1346.9,243.11 1347.6,245.47 1348.3,236.17 1349,246.14 1349.7,244.67 1350.4,231.21 1351.1,248.26 1351.8,233.06 1352.5,232.12 1353.2,243.59 1353.9,235.16 1354.6,239.83 1355.3,238.41" fill="none" stroke="#234F97" stroke-width="3.6" stroke-linejoin="round" stroke-linecap="round"/>
<polyline points="828.2,299.92 828.9,307.23 829.6,296.2 830.3,307.74 831,301.81 831.7,302.76 832.4,315.6 833.1,306.98 833.8,306.84 834.5,312.05 835.2,315.19 835.9,309.78 836.6,313.63 837.3,304.81 838,307.91 838.7,307.28 839.4,302.13 840.1,300.92 840.8,300.04 841.5,307.44 842.2,307.57 842.9,306.52 843.6,308.42 844.3,300.46 845,307.14 845.7,308.65 846.4,311.23 847.1,302.21 847.8,304.91 848.5,296.47 849.2,305.22 849.9,296.35 850.6,301.06 851.3,315.36 852,297.63 852.7,314.57 853.4,312.42 854.1,309.34 854.8,314.02 855.5,314.83 856.2,318.12 856.9,311.54 857.6,309.99 858.3,310.36 859,308.7 859.7,314.31 860.4,310.68 861.1,321.31 861.8,305.59 862.5,310.11 863.2,311.06 863.9,304.96 864.6,327.11 865.3,303.58 866,315.44 866.7,314.29 867.4,326.46 868.1,306.61 868.8,323.6 869.5,313.85 870.2,317.2 870.9,314.53 871.6,321.92 872.3,312.32 873,318.32 873.7,320.87 874.4,329.22 875.1,306.05 875.8,327.84 876.5,324.84 877.2,317.39 877.9,322.34 878.6,318.72 879.3,330.95 880,323.66 880.7,321.94 881.4,322.48 882.1,323.25 882.8,323.99 883.5,320.75 884.2,337.51 884.9,316.3 885.6,307.59 886.3,327.36 887,327.84 887.7,331.31 888.4,328.75 889.1,329.68 889.8,332.94 890.5,337.05 891.2,329.87 891.9,330.4 892.6,342.86 893.3,334.83 894,326.23 894.7,344.17 895.4,335.39 896.1,327.62 896.8,324.14 897.5,331.97 898.2,325.49 898.9,323.98 899.6,322.41 900.3,326.49 901,335.1 901.7,326.36 902.4,320.5 903.1,331.89 903.8,328.31 904.5,332.32 905.2,334.03 905.9,326.22 906.6,326.2 907.3,326.75 908,320.76 908.7,330.68 909.4,334.55 910.1,327.96 910.8,325.69 911.5,325.57 912.2,322.71 912.9,322.58 913.6,324.8 914.3,322.37 915,324.59 915.7,318.32 916.4,328.93 917.1,327.27 917.8,320.66 918.5,314.36 919.2,326.96 919.9,333.07 920.6,322.97 921.3,324.28 922,323.68 922.7,330.26 923.4,321.49 924.1,331.82 924.8,324.59 925.5,331.21 926.2,326.16 926.9,324.57 927.6,317.58 928.3,321.79 929,324 929.7,328.93 930.4,326.51 931.1,321.19 931.8,327.14 932.5,330.18 933.2,323.8 933.9,322.06 934.6,322.17 935.3,328.66 936,327.03 936.7,318.82 937.4,325.85 938.1,321.01 938.8,319.39 939.5,330.25 940.2,328.16 940.9,319.86 941.6,324.49 942.3,327.02 943,320.96 943.7,324.02 944.4,328.56 945.1,315.26 945.8,327.11 946.5,329.59 947.2,328.51 947.9,318.56 948.6,327.9 949.3,321.61 950,329.7 950.7,330.1 951.4,328.18 952.1,322.99 952.8,324.15 953.5,332.31 954.2,322.88 954.9,330.76 955.6,331.06 956.3,326.92 957,341.83 957.7,329.26 958.4,340.56 959.1,317.49 959.8,316.06 960.5,333.63 961.2,331.56 961.9,326.17 962.6,327.42 963.3,317.07 964,323.9 964.7,321.51 965.4,325.8 966.1,331.72 966.8,326.96 967.5,328.54 968.2,322.48 968.9,323.76 969.6,326.59 970.3,324.25 971,332.59 971.7,320.64 972.4,335.68 973.1,319.72 973.8,330.76 974.5,320.51 975.2,333.65 975.9,325.17 976.6,326.43 977.3,328.16 978,320.4 978.7,317.99 979.4,312.4 980.1,330.07 980.8,319.27 981.5,319.57 982.2,322.39 982.9,333.23 983.6,312.52 984.3,323.13 985,319.32 985.7,324.15 986.4,311.07 987.1,318.51 987.8,325.05 988.5,328.74 989.2,328.68 989.9,314.93 990.6,319.66 991.3,318.49 992,311.26 992.7,310.64 993.4,322.46 994.1,319.38 994.8,317 995.5,324.39 996.2,312.11 996.9,320.43 997.6,317.5 998.3,317.03 999,319.97 999.7,318.16 1000.4,318.57 1001.1,318.48 1001.8,327.59 1002.5,315.14 1003.2,322.33 1003.9,320.02 1004.6,314.66 1005.3,320.88 1006,311.7 1006.7,322.71 1007.4,311.79 1008.1,313.46 1008.8,317.85 1009.5,320.52 1010.2,320.49 1010.9,319.97 1011.6,313.47 1012.3,308.91 1013,316.76 1013.7,314.95 1014.4,307.61 1015.1,317.76 1015.8,313.06 1016.5,306.26 1017.2,313.51 1017.9,303.36 1018.6,305.38 1019.3,311.97 1020,300.75 1020.7,309.09 1021.4,301.01 1022.1,312.05 1022.8,303.56 1023.5,308.12 1024.2,298.44 1024.9,304.46 1025.6,311.21 1026.3,308.17 1027,295.2 1027.7,310.04 1028.4,309.52 1029.1,302.19 1029.8,311.71 1030.5,297.74 1031.2,302.75 1031.9,309 1032.6,309.73 1033.3,309.22 1034,295.81 1034.7,291.69 1035.4,303.28 1036.1,292.91 1036.8,299.71 1037.5,293.04 1038.2,305.58 1038.9,303.81 1039.6,302.1 1040.3,298.79 1041,298.6 1041.7,296.36 1042.4,299.76 1043.1,298.37 1043.8,298.83 1044.5,293.24 1045.2,305.34 1045.9,295.75 1046.6,301.17 1047.3,300.12 1048,287.26 1048.7,282.12 1049.4,297.61 1050.1,287.87 1050.8,289.75 1051.5,287.17 1052.2,288.62 1052.9,280.66 1053.6,285.93 1054.3,283.04 1055,284.6 1055.7,270.93 1056.4,287.38 1057.1,283.78 1057.8,271.55 1058.5,276.1 1059.2,279.4 1059.9,281.78 1060.6,277.42 1061.3,284.11 1062,275.72 1062.7,269.19 1063.4,270.06 1064.1,276.98 1064.8,268.72 1065.5,275.92 1066.2,276.11 1066.9,272.94 1067.6,274.5 1068.3,267.16 1069,269.02 1069.7,267.06 1070.4,268.21 1071.1,264.2 1071.8,271 1072.5,269.41 1073.2,268.7 1073.9,278.6 1074.6,281.54 1075.3,278.41 1076,289.85 1076.7,290.59 1077.4,294.26 1078.1,288.28 1078.8,286.49 1079.5,300.86 1080.2,302.44 1080.9,307.33 1081.6,308.22 1082.3,315.46 1083,309.53 1083.7,317.38 1084.4,311.38 1085.1,306.2 1085.8,319.05 1086.5,332.33 1087.2,318.02 1087.9,336.39 1088.6,330.62 1089.3,335.72 1090,341.72 1090.7,346.2 1091.4,343.24 1092.1,352.86 1092.8,358.16 1093.5,363.87 1094.2,358.69 1094.9,374.94 1095.6,380.46 1096.3,386.78 1097,369.63 1097.7,381.45 1098.4,373.78 1099.1,389.58 1099.8,394.05 1100.5,388.18 1101.2,389.28 1101.9,402.53 1102.6,408.45 1103.3,404.14 1104,407.23 1104.7,392.44 1105.4,400.11 1106.1,402.47 1106.8,400.17 1107.5,405.71 1108.2,388.39 1108.9,379.95 1109.6,392.49 1110.3,384.41 1111,386.91 1111.7,386.95 1112.4,383.97 1113.1,386.62 1113.8,384.3 1114.5,365.88 1115.2,372.86 1115.9,382.38 1116.6,367.31 1117.3,373.04 1118,365.58 1118.7,361.75 1119.4,370.94 1120.1,366.14 1120.8,357.24 1121.5,361.74 1122.2,347.7 1122.9,349.1 1123.6,356.22 1124.3,350.91 1125,344.5 1125.7,352.47 1126.4,351.45 1127.1,356.36 1127.8,354.2 1128.5,347.07 1129.2,345.57 1129.9,347.12 1130.6,346.27 1131.3,355.21 1132,355.56 1132.7,353.93 1133.4,348.2 1134.1,344.42 1134.8,350.38 1135.5,343.14 1136.2,346.01 1136.9,335.19 1137.6,341.67 1138.3,351.57 1139,337.2 1139.7,333.76 1140.4,340.18 1141.1,349.37 1141.8,347.3 1142.5,336.45 1143.2,334.92 1143.9,336.06 1144.6,330.67 1145.3,335.1 1146,332.37 1146.7,325.02 1147.4,329.07 1148.1,329.96 1148.8,325.76 1149.5,323.46 1150.2,333.71 1150.9,338.27 1151.6,325.39 1152.3,323.75 1153,327.96 1153.7,323.66 1154.4,320.34 1155.1,332.01 1155.8,318.35 1156.5,319.78 1157.2,319.87 1157.9,318.37 1158.6,321.65 1159.3,325.85 1160,330.33 1160.7,325.77 1161.4,322.03 1162.1,314.68 1162.8,320.94 1163.5,315.82 1164.2,320.18 1164.9,325.82 1165.6,321.28 1166.3,318.72 1167,315.46 1167.7,319.2 1168.4,319.65 1169.1,313.65 1169.8,315.7 1170.5,323.05 1171.2,308.79 1171.9,315.42 1172.6,311.54 1173.3,326.56 1174,321.49 1174.7,321.09 1175.4,320.54 1176.1,320.04 1176.8,320.17 1177.5,309.94 1178.2,320.18 1178.9,322.13 1179.6,311.11 1180.3,323.6 1181,322.83 1181.7,310.89 1182.4,316.77 1183.1,317.77 1183.8,316.67 1184.5,321.81 1185.2,312.74 1185.9,318.63 1186.6,321.2 1187.3,324.05 1188,320.43 1188.7,318.93 1189.4,324.16 1190.1,309.52 1190.8,325.7 1191.5,318.98 1192.2,313.89 1192.9,318.51 1193.6,310.88 1194.3,309.83 1195,319.37 1195.7,316.99 1196.4,325.4 1197.1,316.6 1197.8,314.18 1198.5,315.75 1199.2,330.18 1199.9,320.61 1200.6,316.83 1201.3,314.47 1202,313.59 1202.7,318.45 1203.4,321.43 1204.1,325.13 1204.8,324.83 1205.5,319.74 1206.2,314.34 1206.9,312.96 1207.6,304.69 1208.3,311.53 1209,319.17 1209.7,314.72 1210.4,318.32 1211.1,308.61 1211.8,320.68 1212.5,317.09 1213.2,315.42 1213.9,317.12 1214.6,302.33 1215.3,311.29 1216,309.33 1216.7,324.38 1217.4,313.56 1218.1,311.93 1218.8,319.55 1219.5,309.21 1220.2,322.98 1220.9,311.44 1221.6,315.13 1222.3,310.57 1223,320.2 1223.7,303.96 1224.4,319.85 1225.1,311.7 1225.8,316.63 1226.5,310.17 1227.2,317.91 1227.9,317.83 1228.6,320.2 1229.3,318.83 1230,320.68 1230.7,322.86 1231.4,315.41 1232.1,311.21 1232.8,310.82 1233.5,321.74 1234.2,316.07 1234.9,324.08 1235.6,318.69 1236.3,313.02 1237,323.72 1237.7,329.57 1238.4,318.04 1239.1,314.02 1239.8,314.69 1240.5,324.38 1241.2,316.42 1241.9,317.34 1242.6,323.12 1243.3,319.2 1244,319.55 1244.7,315.71 1245.4,314.97 1246.1,319.17 1246.8,318.9 1247.5,321.09 1248.2,314.86 1248.9,319.29 1249.6,319.79 1250.3,317.41 1251,319.88 1251.7,322.08 1252.4,317.39 1253.1,316.51 1253.8,310.53 1254.5,317.45 1255.2,314.91 1255.9,313.5 1256.6,310.45 1257.3,317.93 1258,328.63 1258.7,316.72 1259.4,314.59 1260.1,316.3 1260.8,310.42 1261.5,313.99 1262.2,309.6 1262.9,309.5 1263.6,314.09 1264.3,313.85 1265,311.75 1265.7,307.78 1266.4,313.38 1267.1,305.73 1267.8,315.74 1268.5,309.38 1269.2,311.06 1269.9,315.17 1270.6,313.69 1271.3,303.5 1272,309.5 1272.7,313.15 1273.4,305.41 1274.1,298.43 1274.8,311.52 1275.5,311.92 1276.2,314.79 1276.9,313.15 1277.6,313.68 1278.3,314.54 1279,321.04 1279.7,316.41 1280.4,316.99 1281.1,312.11 1281.8,320.7 1282.5,313.76 1283.2,319.11 1283.9,303.72 1284.6,316.92 1285.3,315.3 1286,313.56 1286.7,323.43 1287.4,318.84 1288.1,316.1 1288.8,314.25 1289.5,327.71 1290.2,321.77 1290.9,321.53 1291.6,313.99 1292.3,325.61 1293,321.77 1293.7,317.48 1294.4,318.65 1295.1,310.55 1295.8,323.33 1296.5,314.01 1297.2,324.9 1297.9,318.12 1298.6,317.38 1299.3,323.08 1300,322.47 1300.7,315.28 1301.4,320.94 1302.1,324.56 1302.8,319.74 1303.5,313.62 1304.2,319.55 1304.9,315.49 1305.6,317.48 1306.3,320.79 1307,320.12 1307.7,319.15 1308.4,311.11 1309.1,321.97 1309.8,318.85 1310.5,317.59 1311.2,320.56 1311.9,330.15 1312.6,312.41 1313.3,310.55 1314,323.42 1314.7,314.8 1315.4,326.13 1316.1,313.5 1316.8,316.12 1317.5,323.23 1318.2,323.53 1318.9,320.85 1319.6,320.79 1320.3,317.47 1321,315.66 1321.7,316.84 1322.4,324.79 1323.1,321.7 1323.8,317.97 1324.5,319.65 1325.2,322.49 1325.9,324.47 1326.6,317.31 1327.3,317.64 1328,319.92 1328.7,332.42 1329.4,319.51 1330.1,325.18 1330.8,309.88 1331.5,322.95 1332.2,310.66 1332.9,312.48 1333.6,314.97 1334.3,317.69 1335,319.49 1335.7,320.56 1336.4,319.82 1337.1,316.24 1337.8,332.84 1338.5,320.86 1339.2,322.4 1339.9,329.84 1340.6,324.11 1341.3,322.03 1342,320.68 1342.7,329.15 1343.4,313.1 1344.1,313.81 1344.8,319.87 1345.5,308 1346.2,314.91 1346.9,325.35 1347.6,316.72 1348.3,320.17 1349,323.09 1349.7,313 1350.4,320.88 1351.1,316.01 1351.8,313.52 1352.5,318.02 1353.2,319.25 1353.9,317.41 1354.6,316.04 1355.3,324.89" fill="none" stroke="#E2766E" stroke-width="3.6" stroke-linejoin="round" stroke-linecap="round"/>
<polyline points="828.2,406.41 828.9,406.96 829.6,400.48 830.3,403.05 831,404.38 831.7,400.04 832.4,404.36 833.1,389.98 833.8,393.27 834.5,387.73 835.2,386.63 835.9,389.04 836.6,390.45 837.3,390.78 838,390.54 838.7,398.82 839.4,390.99 840.1,377.51 840.8,386.16 841.5,381.16 842.2,382.06 842.9,392.66 843.6,385.84 844.3,377.98 845,390.86 845.7,388.86 846.4,385.39 847.1,387.84 847.8,390.5 848.5,394.76 849.2,393.79 849.9,397.5 850.6,407.8 851.3,394.49 852,393.86 852.7,396.18 853.4,402.59 854.1,392.63 854.8,403.18 855.5,388.33 856.2,389.18 856.9,393.68 857.6,388.89 858.3,389.58 859,394.56 859.7,395.39 860.4,391.63 861.1,389.02 861.8,396.86 862.5,391.72 863.2,388.3 863.9,395.74 864.6,384.63 865.3,390.07 866,392.55 866.7,388.95 867.4,385.92 868.1,390.63 868.8,385.89 869.5,385.51 870.2,383.18 870.9,395.18 871.6,385.44 872.3,394.2 873,390.07 873.7,386.63 874.4,391.36 875.1,389.4 875.8,389.93 876.5,383.35 877.2,392.14 877.9,397.68 878.6,396.83 879.3,400.74 880,404.57 880.7,400.22 881.4,409.62 882.1,392.74 882.8,400.62 883.5,390.01 884.2,408.67 884.9,405.59 885.6,414.58 886.3,404.6 887,396.66 887.7,414.55 888.4,401.62 889.1,402.71 889.8,409.09 890.5,413.96 891.2,408.76 891.9,413.07 892.6,403.02 893.3,422.5 894,411.43 894.7,410.29 895.4,410.59 896.1,406.31 896.8,404.35 897.5,396.36 898.2,398.48 898.9,399.22 899.6,400.26 900.3,392.09 901,391.86 901.7,392.86 902.4,393.8 903.1,391.62 903.8,388.95 904.5,387.33 905.2,395.55 905.9,390.97 906.6,389.26 907.3,406.96 908,393.19 908.7,392.75 909.4,388.83 910.1,382.66 910.8,394.78 911.5,389.35 912.2,391.01 912.9,397.02 913.6,397.9 914.3,394.79 915,394.58 915.7,406.33 916.4,399.33 917.1,391.95 917.8,402.13 918.5,399.95 919.2,400.26 919.9,404.58 920.6,403.19 921.3,413.43 922,405.24 922.7,406.67 923.4,412.57 924.1,404.78 924.8,414.16 925.5,409.76 926.2,417.4 926.9,408.01 927.6,415.78 928.3,406.47 929,413.66 929.7,417.21 930.4,420.88 931.1,429.75 931.8,430.22 932.5,412.7 933.2,413.84 933.9,422.41 934.6,416.31 935.3,405.05 936,412.8 936.7,402.54 937.4,402.06 938.1,398.1 938.8,401.41 939.5,412.58 940.2,400.98 940.9,396.58 941.6,408.32 942.3,390.98 943,390.73 943.7,389.43 944.4,392.28 945.1,387.77 945.8,396.24 946.5,386.45 947.2,390.18 947.9,387.72 948.6,381.39 949.3,380.08 950,384.17 950.7,371.82 951.4,383.11 952.1,382.73 952.8,382.36 953.5,380.51 954.2,382.34 954.9,379.04 955.6,384.54 956.3,373.1 957,386.63 957.7,377.68 958.4,385.12 959.1,380.54 959.8,381.09 960.5,379.55 961.2,390.97 961.9,378.71 962.6,378.44 963.3,386.18 964,386.75 964.7,385.98 965.4,381.26 966.1,383.75 966.8,392.69 967.5,383.51 968.2,392.9 968.9,394.38 969.6,392.17 970.3,386.05 971,403.11 971.7,394.74 972.4,395.98 973.1,392.59 973.8,388.68 974.5,391.27 975.2,392.75 975.9,386.39 976.6,390.43 977.3,394.85 978,390.21 978.7,386.5 979.4,391.5 980.1,389.88 980.8,388.85 981.5,379.11 982.2,372.88 982.9,385.48 983.6,380.72 984.3,377.19 985,380.33 985.7,374.18 986.4,372.02 987.1,383.28 987.8,364.4 988.5,375.68 989.2,375.28 989.9,377.92 990.6,368.75 991.3,368.78 992,360.11 992.7,363.71 993.4,351.37 994.1,358.02 994.8,359.51 995.5,357.82 996.2,354.58 996.9,363.02 997.6,349.61 998.3,359.37 999,357.46 999.7,360.56 1000.4,361.49 1001.1,372.13 1001.8,357.38 1002.5,370.69 1003.2,371.85 1003.9,364.78 1004.6,363.1 1005.3,360.73 1006,363.4 1006.7,379.02 1007.4,357.81 1008.1,371.94 1008.8,366.59 1009.5,380.57 1010.2,372.97 1010.9,364.94 1011.6,369.81 1012.3,374.09 1013,374.3 1013.7,369.34 1014.4,373.35 1015.1,373.02 1015.8,378.49 1016.5,377.99 1017.2,377.88 1017.9,373.48 1018.6,380.43 1019.3,373.25 1020,371.68 1020.7,373.57 1021.4,373.94 1022.1,373.84 1022.8,365.27 1023.5,382.08 1024.2,378.13 1024.9,381.56 1025.6,372.49 1026.3,378.24 1027,375.2 1027.7,374.13 1028.4,383.1 1029.1,370.56 1029.8,376.42 1030.5,364.3 1031.2,376 1031.9,372.92 1032.6,369.97 1033.3,373.56 1034,367.08 1034.7,373.97 1035.4,381.75 1036.1,368.64 1036.8,389.3 1037.5,390.17 1038.2,382.64 1038.9,380.26 1039.6,382.11 1040.3,384.14 1041,388.28 1041.7,404.86 1042.4,389.16 1043.1,399.41 1043.8,402.31 1044.5,391.29 1045.2,395.15 1045.9,400.38 1046.6,393.84 1047.3,404.04 1048,409.05 1048.7,398.01 1049.4,394.34 1050.1,402.04 1050.8,401.04 1051.5,395.77 1052.2,399.26 1052.9,400.78 1053.6,403.29 1054.3,406.95 1055,398.86 1055.7,394.98 1056.4,393.65 1057.1,412.02 1057.8,400.83 1058.5,401.58 1059.2,417.18 1059.9,410.89 1060.6,417.45 1061.3,405.61 1062,403.62 1062.7,405.17 1063.4,411.97 1064.1,411.48 1064.8,412.08 1065.5,422.45 1066.2,418.44 1066.9,406.46 1067.6,415.08 1068.3,416.59 1069,410.71 1069.7,427.72 1070.4,421.56 1071.1,425.78 1071.8,416.27 1072.5,414.22 1073.2,425.19 1073.9,421.36 1074.6,420.5 1075.3,424.16 1076,426.83 1076.7,427.62 1077.4,426.9 1078.1,431.15 1078.8,444.42 1079.5,436.05 1080.2,427.88 1080.9,441.74 1081.6,429.24 1082.3,424.29 1083,425.74 1083.7,422.92 1084.4,440.14 1085.1,429.02 1085.8,427.92 1086.5,433.02 1087.2,435.48 1087.9,430.66 1088.6,434.76 1089.3,438.32 1090,442.31 1090.7,434.34 1091.4,441.82 1092.1,439.9 1092.8,441.07 1093.5,435.06 1094.2,431.43 1094.9,442.15 1095.6,439.83 1096.3,432.93 1097,432 1097.7,439.34 1098.4,445.9 1099.1,436.94 1099.8,447.82 1100.5,435.94 1101.2,435.76 1101.9,436.15 1102.6,438.93 1103.3,425.07 1104,433.35 1104.7,438.81 1105.4,423.94 1106.1,433.81 1106.8,436.92 1107.5,442.45 1108.2,442.14 1108.9,434.28 1109.6,445.7 1110.3,429.59 1111,428.54 1111.7,443.26 1112.4,440.27 1113.1,431.29 1113.8,443.38 1114.5,442.71 1115.2,442.44 1115.9,436.8 1116.6,432.73 1117.3,430.65 1118,438.39 1118.7,438.77 1119.4,436.98 1120.1,436.79 1120.8,444.6 1121.5,433.9 1122.2,436.02 1122.9,450.33 1123.6,436.7 1124.3,436.76 1125,445.7 1125.7,430.77 1126.4,448.74 1127.1,433.66 1127.8,436.03 1128.5,433.73 1129.2,435.51 1129.9,436.72 1130.6,445.51 1131.3,440.35 1132,447.96 1132.7,444.88 1133.4,434.39 1134.1,441.06 1134.8,437.82 1135.5,438.83 1136.2,441.77 1136.9,442.8 1137.6,442.43 1138.3,428.34 1139,437.93 1139.7,435.63 1140.4,447.02 1141.1,435.35 1141.8,435.74 1142.5,435.24 1143.2,438.59 1143.9,427.8 1144.6,432.42 1145.3,431.74 1146,431.58 1146.7,429.66 1147.4,427.43 1148.1,430.01 1148.8,421.95 1149.5,436.6 1150.2,427.14 1150.9,416.75 1151.6,423.85 1152.3,429.38 1153,422.45 1153.7,421.77 1154.4,409.65 1155.1,428.14 1155.8,420.09 1156.5,408.54 1157.2,415.57 1157.9,424.64 1158.6,418.08 1159.3,407.31 1160,411.28 1160.7,414.76 1161.4,424.05 1162.1,414.22 1162.8,416.54 1163.5,410.74 1164.2,412.41 1164.9,406.64 1165.6,404.74 1166.3,404.26 1167,408.04 1167.7,417.43 1168.4,410.41 1169.1,416.6 1169.8,414.12 1170.5,410.62 1171.2,406.93 1171.9,420.55 1172.6,414.97 1173.3,415.29 1174,421.58 1174.7,416.19 1175.4,409.41 1176.1,410.79 1176.8,412.27 1177.5,421.68 1178.2,405.15 1178.9,401.51 1179.6,409.06 1180.3,412.19 1181,409.65 1181.7,418.13 1182.4,416.98 1183.1,414.22 1183.8,415.34 1184.5,425.53 1185.2,426.55 1185.9,425.75 1186.6,415.26 1187.3,424.21 1188,412.29 1188.7,409.29 1189.4,428.4 1190.1,424.62 1190.8,424.12 1191.5,428.6 1192.2,430.42 1192.9,423.75 1193.6,424.28 1194.3,425.19 1195,425.67 1195.7,421.36 1196.4,412.55 1197.1,431.82 1197.8,414.04 1198.5,414.03 1199.2,419.48 1199.9,415.28 1200.6,417.5 1201.3,426.54 1202,420.57 1202.7,409.85 1203.4,413.18 1204.1,410.36 1204.8,416.42 1205.5,404.08 1206.2,402.72 1206.9,397.89 1207.6,408.3 1208.3,406.61 1209,407.3 1209.7,406.92 1210.4,395.13 1211.1,398.45 1211.8,393.69 1212.5,404.74 1213.2,401.77 1213.9,388.65 1214.6,397.96 1215.3,394.71 1216,394.11 1216.7,397.09 1217.4,390.22 1218.1,391.69 1218.8,389.79 1219.5,389.75 1220.2,387.72 1220.9,399.18 1221.6,396.14 1222.3,391.76 1223,384.36 1223.7,404.79 1224.4,393.04 1225.1,393.89 1225.8,396.17 1226.5,401.66 1227.2,391.11 1227.9,380.31 1228.6,390.94 1229.3,392.42 1230,389.48 1230.7,400.07 1231.4,390.01 1232.1,393.97 1232.8,388.02 1233.5,396.18 1234.2,388.55 1234.9,396.43 1235.6,392.77 1236.3,392.85 1237,393.61 1237.7,383.53 1238.4,389.49 1239.1,392.94 1239.8,389.75 1240.5,397.95 1241.2,396.22 1241.9,387.49 1242.6,396.82 1243.3,388.89 1244,392.34 1244.7,395.23 1245.4,382.41 1246.1,383.35 1246.8,386.7 1247.5,385.17 1248.2,377.05 1248.9,388.65 1249.6,385.43 1250.3,385 1251,384.96 1251.7,386.5 1252.4,377.85 1253.1,383.18 1253.8,378.67 1254.5,377.79 1255.2,375.15 1255.9,385.39 1256.6,365.79 1257.3,374.36 1258,381.23 1258.7,375.53 1259.4,373.37 1260.1,381.78 1260.8,371.01 1261.5,373.99 1262.2,377.15 1262.9,371.85 1263.6,371.45 1264.3,374.07 1265,378.35 1265.7,368.03 1266.4,375.16 1267.1,371.62 1267.8,369.71 1268.5,364.16 1269.2,379.66 1269.9,373.15 1270.6,371.15 1271.3,367.89 1272,377.91 1272.7,366.13 1273.4,364.24 1274.1,365.42 1274.8,369.25 1275.5,371.18 1276.2,359.1 1276.9,371 1277.6,370.89 1278.3,375.09 1279,367.78 1279.7,377.2 1280.4,379.93 1281.1,366.67 1281.8,368.13 1282.5,376.05 1283.2,379.15 1283.9,374.83 1284.6,382.77 1285.3,370.67 1286,385.6 1286.7,385 1287.4,389.33 1288.1,389.14 1288.8,392.1 1289.5,388.22 1290.2,399.73 1290.9,383.67 1291.6,396.61 1292.3,391.91 1293,405.26 1293.7,389.14 1294.4,395.61 1295.1,394.77 1295.8,399.02 1296.5,394.72 1297.2,389.12 1297.9,393.87 1298.6,400.61 1299.3,398.4 1300,390.62 1300.7,387.79 1301.4,387.54 1302.1,393.58 1302.8,393.24 1303.5,392.1 1304.2,391.21 1304.9,394.81 1305.6,400.63 1306.3,398.92 1307,391.36 1307.7,397.64 1308.4,392.45 1309.1,400.7 1309.8,399.63 1310.5,399.44 1311.2,406.38 1311.9,400.47 1312.6,400.08 1313.3,402.86 1314,390.45 1314.7,394.43 1315.4,394.58 1316.1,401.11 1316.8,397.1 1317.5,390.67 1318.2,393.44 1318.9,396.64 1319.6,395.53 1320.3,395.8 1321,390.8 1321.7,399.4 1322.4,392.23 1323.1,397.12 1323.8,396.05 1324.5,397.81 1325.2,407.02 1325.9,397.47 1326.6,397.71 1327.3,387.02 1328,395.49 1328.7,401.49 1329.4,398.72 1330.1,404.64 1330.8,399.1 1331.5,404.95 1332.2,402.3 1332.9,406.7 1333.6,399.75 1334.3,406 1335,398.99 1335.7,397.59 1336.4,407.67 1337.1,394.7 1337.8,397.2 1338.5,410.7 1339.2,403.19 1339.9,404.37 1340.6,403.77 1341.3,402.23 1342,412.19 1342.7,401.6 1343.4,408.29 1344.1,400.3 1344.8,396.19 1345.5,397.86 1346.2,398.99 1346.9,411.67 1347.6,394.53 1348.3,399.44 1349,388.64 1349.7,399.02 1350.4,394.9 1351.1,397.12 1351.8,395.01 1352.5,391.63 1353.2,393.85 1353.9,393.02 1354.6,397.87 1355.3,391.57" fill="none" stroke="#B769A4" stroke-width="3.6" stroke-linejoin="round" stroke-linecap="round"/>
<line x1="796.1" y1="83" x2="796.1" y2="485.9" stroke="#000" stroke-width="6" stroke-linecap="butt" />
<line x1="783.1" y1="473" x2="1358.9" y2="473" stroke="#000" stroke-width="6" stroke-linecap="butt" />
<line x1="783.1" y1="395.6" x2="796.1" y2="395.6" stroke="#000" stroke-width="6" stroke-linecap="butt" />
<line x1="783.1" y1="318.2" x2="796.1" y2="318.2" stroke="#000" stroke-width="6" stroke-linecap="butt" />
<line x1="783.1" y1="240.8" x2="796.1" y2="240.8" stroke="#000" stroke-width="6" stroke-linecap="butt" />
<line x1="783.1" y1="163.4" x2="796.1" y2="163.4" stroke="#000" stroke-width="6" stroke-linecap="butt" />
<line x1="783.1" y1="86" x2="796.1" y2="86" stroke="#000" stroke-width="6" stroke-linecap="butt" />
<line x1="824.09" y1="473" x2="824.09" y2="481.8" stroke="#000" stroke-width="6" stroke-linecap="butt" />
<line x1="852.08" y1="473" x2="852.08" y2="481.8" stroke="#000" stroke-width="6" stroke-linecap="butt" />
<line x1="880.07" y1="473" x2="880.07" y2="481.8" stroke="#000" stroke-width="6" stroke-linecap="butt" />
<line x1="908.06" y1="473" x2="908.06" y2="481.8" stroke="#000" stroke-width="6" stroke-linecap="butt" />
<line x1="936.05" y1="473" x2="936.05" y2="485.9" stroke="#000" stroke-width="6" stroke-linecap="butt" />
<line x1="964.04" y1="473" x2="964.04" y2="481.8" stroke="#000" stroke-width="6" stroke-linecap="butt" />
<line x1="992.03" y1="473" x2="992.03" y2="481.8" stroke="#000" stroke-width="6" stroke-linecap="butt" />
<line x1="1020.02" y1="473" x2="1020.02" y2="481.8" stroke="#000" stroke-width="6" stroke-linecap="butt" />
<line x1="1048.01" y1="473" x2="1048.01" y2="481.8" stroke="#000" stroke-width="6" stroke-linecap="butt" />
<line x1="1076" y1="473" x2="1076" y2="485.9" stroke="#000" stroke-width="6" stroke-linecap="butt" />
<line x1="1103.99" y1="473" x2="1103.99" y2="481.8" stroke="#000" stroke-width="6" stroke-linecap="butt" />
<line x1="1131.98" y1="473" x2="1131.98" y2="481.8" stroke="#000" stroke-width="6" stroke-linecap="butt" />
<line x1="1159.97" y1="473" x2="1159.97" y2="481.8" stroke="#000" stroke-width="6" stroke-linecap="butt" />
<line x1="1187.96" y1="473" x2="1187.96" y2="481.8" stroke="#000" stroke-width="6" stroke-linecap="butt" />
<line x1="1215.95" y1="473" x2="1215.95" y2="485.9" stroke="#000" stroke-width="6" stroke-linecap="butt" />
<line x1="1243.94" y1="473" x2="1243.94" y2="481.8" stroke="#000" stroke-width="6" stroke-linecap="butt" />
<line x1="1271.93" y1="473" x2="1271.93" y2="481.8" stroke="#000" stroke-width="6" stroke-linecap="butt" />
<line x1="1299.92" y1="473" x2="1299.92" y2="481.8" stroke="#000" stroke-width="6" stroke-linecap="butt" />
<line x1="1327.91" y1="473" x2="1327.91" y2="481.8" stroke="#000" stroke-width="6" stroke-linecap="butt" />
<line x1="1355.9" y1="473" x2="1355.9" y2="485.9" stroke="#000" stroke-width="6" stroke-linecap="butt" />
<text x="781.9" y="483.8" font-size="32.2" font-weight="bold" font-style="normal" text-anchor="end" fill="#000" >-0.02</text>
<text x="781.9" y="406.4" font-size="32.2" font-weight="bold" font-style="normal" text-anchor="end" fill="#000" >-0.01</text>
<text x="781.9" y="329" font-size="32.2" font-weight="bold" font-style="normal" text-anchor="end" fill="#000" >0.00</text>
<text x="781.9" y="251.6" font-size="32.2" font-weight="bold" font-style="normal" text-anchor="end" fill="#000" >0.01</text>
<text x="781.9" y="174.2" font-size="32.2" font-weight="bold" font-style="normal" text-anchor="end" fill="#000" >0.02</text>
<text x="781.9" y="96.8" font-size="32.2" font-weight="bold" font-style="normal" text-anchor="end" fill="#000" >0.03</text>
<text x="796.1" y="518.2" font-size="32.5" font-weight="bold" font-style="normal" text-anchor="middle" fill="#000" >325</text>
<text x="936.05" y="518.2" font-size="32.5" font-weight="bold" font-style="normal" text-anchor="middle" fill="#000" >330</text>
<text x="1076" y="518.2" font-size="32.5" font-weight="bold" font-style="normal" text-anchor="middle" fill="#000" >335</text>
<text x="1215.95" y="518.2" font-size="32.5" font-weight="bold" font-style="normal" text-anchor="middle" fill="#000" >340</text>
<text x="1355.9" y="518.2" font-size="32.5" font-weight="bold" font-style="normal" text-anchor="middle" fill="#000" >345</text>
<text x="995.5" y="565" font-size="35" font-weight="bold" font-style="normal" text-anchor="middle" fill="#000" >Field (mT)</text>
<text transform="translate(695,279.5) rotate(-90)" font-size="35.1" font-weight="bold" text-anchor="middle">Intensity</text>
<text x="1347" y="142" font-size="30.9" font-weight="bold" fill="#6A3D8C"><tspan font-style="italic">Ndas</tspan>CDO</text>
<text x="1344" y="214.8" font-size="31.1" font-weight="bold" font-style="italic" fill="#2A4F9C">cFG</text>
<text x="1342" y="294.6" font-size="31.9" font-weight="normal" fill="#E8796D" stroke="#E8796D" stroke-width="1.7" stroke-linejoin="round"><tspan font-style="italic">Ndas</tspan>CDO</text>
<text x="1375" y="334.6" font-size="31.9" font-weight="normal" fill="#E8796D" stroke="#E8796D" stroke-width="1.7" stroke-linejoin="round">+ cFG</text>
<text x="1340" y="374.7" font-size="31.9" font-weight="normal" fill="#B06FA8" stroke="#B06FA8" stroke-width="1.7" stroke-linejoin="round"><tspan font-style="italic">Ndas</tspan>CDO</text>
<text x="1370" y="414.7" font-size="31.9" font-weight="normal" fill="#B06FA8" stroke="#B06FA8" stroke-width="1.7" stroke-linejoin="round">+ cGG</text>
<text x="25.7" y="661.6" font-size="56" font-weight="bold" font-style="normal" text-anchor="start" fill="#000" >c</text>
<line x1="142.1" y1="732" x2="142.1" y2="1108" stroke="#000" stroke-width="4" stroke-linecap="butt" />
<line x1="127.5" y1="1092.4" x2="686.64" y2="1092.4" stroke="#000" stroke-width="4" stroke-linecap="butt" />
<line x1="127.5" y1="1012" x2="142.1" y2="1012" stroke="#000" stroke-width="4" stroke-linecap="butt" />
<line x1="127.5" y1="931.6" x2="142.1" y2="931.6" stroke="#000" stroke-width="4" stroke-linecap="butt" />
<line x1="127.5" y1="851.2" x2="142.1" y2="851.2" stroke="#000" stroke-width="4" stroke-linecap="butt" />
<line x1="127.5" y1="770.8" x2="142.1" y2="770.8" stroke="#000" stroke-width="4" stroke-linecap="butt" />
<line x1="166.77" y1="1092.4" x2="166.77" y2="1100.9" stroke="#000" stroke-width="4" stroke-linecap="butt" />
<line x1="191.44" y1="1092.4" x2="191.44" y2="1100.9" stroke="#000" stroke-width="4" stroke-linecap="butt" />
<line x1="216.11" y1="1092.4" x2="216.11" y2="1100.9" stroke="#000" stroke-width="4" stroke-linecap="butt" />
<line x1="240.78" y1="1092.4" x2="240.78" y2="1100.9" stroke="#000" stroke-width="4" stroke-linecap="butt" />
<line x1="265.45" y1="1092.4" x2="265.45" y2="1100.9" stroke="#000" stroke-width="4" stroke-linecap="butt" />
<line x1="290.12" y1="1092.4" x2="290.12" y2="1100.9" stroke="#000" stroke-width="4" stroke-linecap="butt" />
<line x1="314.79" y1="1092.4" x2="314.79" y2="1100.9" stroke="#000" stroke-width="4" stroke-linecap="butt" />
<line x1="339.46" y1="1092.4" x2="339.46" y2="1100.9" stroke="#000" stroke-width="4" stroke-linecap="butt" />
<line x1="364.13" y1="1092.4" x2="364.13" y2="1100.9" stroke="#000" stroke-width="4" stroke-linecap="butt" />
<line x1="388.8" y1="1092.4" x2="388.8" y2="1107.4" stroke="#000" stroke-width="4" stroke-linecap="butt" />
<line x1="413.47" y1="1092.4" x2="413.47" y2="1100.9" stroke="#000" stroke-width="4" stroke-linecap="butt" />
<line x1="438.14" y1="1092.4" x2="438.14" y2="1100.9" stroke="#000" stroke-width="4" stroke-linecap="butt" />
<line x1="462.81" y1="1092.4" x2="462.81" y2="1100.9" stroke="#000" stroke-width="4" stroke-linecap="butt" />
<line x1="487.48" y1="1092.4" x2="487.48" y2="1100.9" stroke="#000" stroke-width="4" stroke-linecap="butt" />
<line x1="512.15" y1="1092.4" x2="512.15" y2="1100.9" stroke="#000" stroke-width="4" stroke-linecap="butt" />
<line x1="536.82" y1="1092.4" x2="536.82" y2="1100.9" stroke="#000" stroke-width="4" stroke-linecap="butt" />
<line x1="561.49" y1="1092.4" x2="561.49" y2="1100.9" stroke="#000" stroke-width="4" stroke-linecap="butt" />
<line x1="586.16" y1="1092.4" x2="586.16" y2="1100.9" stroke="#000" stroke-width="4" stroke-linecap="butt" />
<line x1="610.83" y1="1092.4" x2="610.83" y2="1100.9" stroke="#000" stroke-width="4" stroke-linecap="butt" />
<line x1="635.5" y1="1092.4" x2="635.5" y2="1107.4" stroke="#000" stroke-width="4" stroke-linecap="butt" />
<line x1="660.17" y1="1092.4" x2="660.17" y2="1100.9" stroke="#000" stroke-width="4" stroke-linecap="butt" />
<line x1="684.84" y1="1092.4" x2="684.84" y2="1100.9" stroke="#000" stroke-width="4" stroke-linecap="butt" />
<text x="121.3" y="1102.2" font-size="27.3" font-weight="bold" font-style="normal" text-anchor="end" fill="#000" >0.0</text>
<text x="121.3" y="1021.8" font-size="27.3" font-weight="bold" font-style="normal" text-anchor="end" fill="#000" >0.2</text>
<text x="121.3" y="941.4" font-size="27.3" font-weight="bold" font-style="normal" text-anchor="end" fill="#000" >0.4</text>
<text x="121.3" y="861" font-size="27.3" font-weight="bold" font-style="normal" text-anchor="end" fill="#000" >0.6</text>
<text x="121.3" y="780.6" font-size="27.3" font-weight="bold" font-style="normal" text-anchor="end" fill="#000" >0.8</text>
<text x="141.7" y="1138.2" font-size="27.3" font-weight="bold" font-style="normal" text-anchor="middle" fill="#000" >0</text>
<text x="388.4" y="1138.2" font-size="27.3" font-weight="bold" font-style="normal" text-anchor="middle" fill="#000" >500</text>
<text x="635.1" y="1138.2" font-size="27.3" font-weight="bold" font-style="normal" text-anchor="middle" fill="#000" >1000</text>
<text x="412.8" y="1181.8" font-size="29.5" font-weight="bold" font-style="normal" text-anchor="middle" fill="#000" >Time (s)</text>
<text transform="translate(65.3,912.6) rotate(-90)" font-size="29.6" font-weight="bold" text-anchor="middle">Abs (560 nm)</text>
<polygon points="149.68,998.11 151.19,996.32 152.75,994.47 154.41,992.42 156.02,990.32 157.53,988.34 159.97,984.83 161.89,979.88 163.28,976.2 164.43,973.74 165.66,971.75 167.18,969.25 168.53,967 169.65,965.4 170.91,963.87 172.42,962.01 173.93,960.16 175.39,958.37 176.56,956.97 177.74,955.83 179.24,954.33 180.75,952.84 182.26,951.34 183.76,949.85 185.08,948.54 186.18,947.57 187.48,946.53 188.98,945.32 190.48,944.11 191.99,942.9 193.22,941.91 194.06,941.34 195.16,940.72 196.66,939.85 198.16,938.98 199.65,938.11 201.15,937.24 202.65,936.37 204.15,935.51 205.65,934.64 206.67,934.04 207.64,933.63 209.14,932.96 210.63,932.29 212.13,931.61 213.63,930.94 215.12,930.27 216.62,929.59 218.11,928.92 219.3,928.39 220.4,927.98 221.82,927.43 223.54,926.75 225.54,925.86 227.3,924.97 228.78,924.21 230.26,923.46 231.73,922.67 233.15,921.8 234.58,920.94 236,920.07 237.42,919.21 238.85,918.34 240.27,917.48 241.7,916.62 243.12,915.75 244.55,914.89 245.97,914.02 247.4,913.16 248.74,912.34 250.02,911.58 251.38,910.8 252.81,909.99 254.24,909.19 255.67,908.38 257.09,907.58 258.52,906.77 259.95,905.96 261.38,905.16 262.81,904.35 264.23,903.55 265.66,902.74 267.09,901.93 268.52,901.13 269.95,900.32 271.38,899.52 272.8,898.71 274.23,897.9 275.66,897.1 277.06,896.31 278.39,895.56 279.75,894.84 281.18,894.08 282.58,893.34 283.98,892.61 285.41,891.87 286.85,891.13 288.28,890.39 289.71,889.65 291.14,888.91 292.58,888.18 294.05,887.53 295.52,886.89 296.99,886.24 298.47,885.6 299.94,884.96 301.41,884.31 302.89,883.67 304.36,883.02 305.72,882.43 307.03,881.91 308.45,881.38 309.93,880.84 311.4,880.29 312.87,879.75 314.35,879.2 315.82,878.65 317.29,878.11 318.77,877.56 320.24,877.02 321.72,876.47 323.19,875.92 324.66,875.38 326.14,874.83 327.63,874.28 329.12,873.72 330.59,873.16 332.07,872.61 333.55,872.07 335.03,871.53 336.51,870.99 332.54,860.09 331.06,860.63 329.58,861.17 328.1,861.71 326.62,862.24 325.13,862.76 323.66,863.27 322.19,863.78 320.7,864.29 319.22,864.8 317.73,865.31 316.25,865.82 314.76,866.33 313.27,866.84 311.79,867.35 310.3,867.86 308.81,868.37 307.33,868.88 305.84,869.4 304.35,869.91 302.81,870.44 301.16,871.04 299.56,871.7 298.08,872.31 296.59,872.92 295.1,873.53 293.61,874.13 292.13,874.74 290.64,875.35 289.15,875.96 287.66,876.57 286.14,877.09 284.61,877.6 283.08,878.11 281.55,878.63 280.02,879.14 278.49,879.66 276.93,880.19 275.37,880.73 273.85,881.26 272.25,881.82 270.62,882.44 269.05,883.04 267.52,883.62 265.99,884.21 264.46,884.79 262.93,885.37 261.39,885.96 259.86,886.54 258.33,887.13 256.8,887.71 255.26,888.3 253.73,888.88 252.2,889.47 250.67,890.05 249.14,890.64 247.6,891.22 246.07,891.81 244.54,892.39 243.01,892.98 241.41,893.59 239.73,894.27 238.11,894.96 236.57,895.61 235.04,896.26 233.5,896.9 231.97,897.55 230.43,898.2 228.9,898.84 227.36,899.49 225.82,900.14 224.29,900.78 222.75,901.43 221.22,902.08 219.72,902.8 218.24,903.55 216.76,904.31 215.56,904.92 214.6,905.34 213.36,905.83 211.82,906.43 209.96,907.23 208.19,908.11 206.72,908.85 205.26,909.59 203.79,910.33 202.33,911.06 200.86,911.8 199.4,912.54 197.93,913.28 195.95,914.28 194.01,915.49 192.54,916.42 191.08,917.35 189.62,918.28 188.16,919.21 186.7,920.15 185.24,921.08 183.78,922.01 181.91,923.19 179.79,924.78 178.06,926.27 176.61,927.54 175.15,928.8 173.69,930.07 172.03,931.52 170.17,933.28 168.53,935.02 167.07,936.57 165.62,938.11 164.16,939.66 162.71,941.21 160.93,943.11 159.14,945.35 157.64,947.31 156.18,949.21 154.73,951.11 153.03,953.33 151.19,956.13 149.59,958.93 148.14,961.47 146.41,964.52 144.6,968.59 143.03,972.91 142,975.97 141.48,976.47 140.03,978.49 138.67,980.39 137.37,982.1 135.97,983.86 134.52,985.69" fill="#D9ABCB"/>
<circle cx="142.1" cy="991.9" r="10.4" fill="#D9ABCB"/>
<polyline points="142.1,991.9 144.51,988.96 146.92,985.9 149.33,982.64 151.74,978.36 154.15,971.84 156.55,967.2 158.96,963.1 161.37,959.33 163.78,956.27 166.19,953.22 168.6,950.19 171.01,947.71 173.42,945.24 175.83,942.76 178.24,940.29 180.64,938.25 183.05,936.24 185.46,934.22 187.87,932.34 190.28,930.87 192.69,929.4 195.1,927.94 197.51,926.47 199.92,925.01 202.33,923.68 204.73,922.53 207.14,921.38 209.55,920.23 211.96,919.08 214.37,917.93 216.78,916.95 219.19,916 221.6,914.86 224.01,913.63 226.42,912.4 228.82,911.17 231.23,909.94 233.64,908.71 236.05,907.48 238.46,906.25 240.87,905.02 243.28,903.79 245.69,902.6 248.1,901.46 250.51,900.33 252.92,899.2 255.32,898.07 257.73,896.94 260.14,895.81 262.55,894.67 264.96,893.54 267.37,892.41 269.78,891.28 272.19,890.15 274.6,889.01 277.01,887.96 279.41,886.91 281.82,885.89 284.23,884.87 286.64,883.85 289.05,882.83 291.46,881.81 293.87,880.79 296.28,879.77 298.69,878.75 301.1,877.73 303.5,876.71 305.91,875.82 308.32,874.96 310.73,874.1 313.14,873.24 315.55,872.38 317.96,871.52 320.37,870.66 322.78,869.8 325.19,868.94 327.59,868.07 330,867.19 332.41,866.31 334.82,865.43 337.23,864.56 339.64,863.68 342.05,862.83 344.46,861.98 346.87,861.13 349.28,860.29 351.69,859.44 354.09,858.59 356.5,857.75 358.91,856.9 361.32,856.05 363.73,855.21 366.14,854.36 368.55,853.51 370.96,852.67 373.37,851.84 375.78,851.01 378.18,850.17 380.59,849.34 383,848.5 385.41,847.67 387.82,846.83 390.23,846 392.64,845.16 395.05,844.32 397.46,843.48 399.87,842.64 402.27,841.8 404.68,840.96 407.09,840.11 409.5,839.27 411.91,838.43 414.32,837.64 416.73,836.89 419.14,836.14 421.55,835.38 423.96,834.63 426.37,833.88 428.77,833.12 431.18,832.37 433.59,831.63 436,830.89 438.41,830.14 440.82,829.4 443.23,828.66 445.64,827.91 448.05,827.17 450.46,826.43 452.86,825.69 455.27,824.94 457.68,824.2 460.09,823.46 462.5,822.71 464.91,821.97 467.32,821.23 469.73,820.48 472.14,819.74 474.55,819 476.95,818.25 479.36,817.51 481.77,816.79 484.18,816.08 486.59,815.36 489,814.65 491.41,813.93 493.82,813.22 496.23,812.51 498.64,811.79 501.04,811.08 503.45,810.36 505.86,809.65 508.27,808.93 510.68,808.22 513.09,807.53 515.5,806.89 517.91,806.25 520.32,805.61 522.73,804.96 525.14,804.32 527.54,803.68 529.95,803.03 532.36,802.39 534.77,801.75 537.18,801.11 539.59,800.46 542,799.87 544.41,799.27 546.82,798.68 549.23,798.09 551.63,797.5 554.04,796.9 556.45,796.31 558.86,795.72 561.27,795.13 563.68,794.54 566.09,793.94 568.5,793.35 570.91,792.76 573.32,792.17 575.72,791.57 578.13,790.98 580.54,790.39 582.95,789.8 585.36,789.2 587.77,788.61 590.18,788.01 592.59,787.38 595,786.74 597.41,786.1 599.81,785.46 602.22,784.82 604.63,784.19 607.04,783.55 609.45,782.91 611.86,782.27 614.27,781.63 616.68,781 619.09,780.36 621.5,779.72 623.91,779.08" fill="none" stroke="#B8488F" stroke-width="11.9" stroke-linejoin="round" stroke-linecap="round"/>
<path d="M136.8,978.12h10.6v10.6h-10.6zM137.29,978.12h10.6v10.6h-10.6zM137.79,978.67h10.6v10.6h-10.6zM138.28,980.05h10.6v10.6h-10.6zM138.77,981.43h10.6v10.6h-10.6zM138.77,994.32h10.6v10.6h-10.6zM139.27,982.81h10.6v10.6h-10.6zM139.76,984.19h10.6v10.6h-10.6zM139.76,997.45h10.6v10.6h-10.6zM140.25,985.33h10.6v10.6h-10.6zM140.75,986.46h10.6v10.6h-10.6zM140.75,999.87h10.6v10.6h-10.6zM141.24,987.6h10.6v10.6h-10.6zM141.73,988.74h10.6v10.6h-10.6zM141.73,1002.28h10.6v10.6h-10.6zM142.23,989.88h10.6v10.6h-10.6zM142.72,991.49h10.6v10.6h-10.6zM142.72,1003.22h10.6v10.6h-10.6zM143.21,993.32h10.6v10.6h-10.6zM143.71,995.14h10.6v10.6h-10.6zM143.71,1004.15h10.6v10.6h-10.6zM144.2,996.97h10.6v10.6h-10.6zM144.69,997.97h10.6v10.6h-10.6zM144.69,1005.09h10.6v10.6h-10.6zM145.19,998.42h10.6v10.6h-10.6zM145.68,998.87h10.6v10.6h-10.6zM145.68,1005.32h10.6v10.6h-10.6zM146.17,999.33h10.6v10.6h-10.6zM146.67,999.78h10.6v10.6h-10.6zM146.67,1005.55h10.6v10.6h-10.6zM147.16,1000.24h10.6v10.6h-10.6zM147.65,1000.69h10.6v10.6h-10.6zM147.65,1005.78h10.6v10.6h-10.6zM148.15,1001.14h10.6v10.6h-10.6zM148.64,1001.6h10.6v10.6h-10.6zM148.64,1006.01h10.6v10.6h-10.6zM149.13,1002.05h10.6v10.6h-10.6zM149.63,1002.43h10.6v10.6h-10.6zM149.63,1006.24h10.6v10.6h-10.6zM150.12,1002.72h10.6v10.6h-10.6zM150.62,1003.02h10.6v10.6h-10.6zM150.62,1006.47h10.6v10.6h-10.6zM151.11,1003.31h10.6v10.6h-10.6zM151.6,1003.61h10.6v10.6h-10.6zM151.6,1006.7h10.6v10.6h-10.6zM152.1,1003.9h10.6v10.6h-10.6zM152.59,1004.2h10.6v10.6h-10.6zM152.59,1006.86h10.6v10.6h-10.6zM153.08,1004.49h10.6v10.6h-10.6zM153.58,1004.79h10.6v10.6h-10.6zM153.58,1007.02h10.6v10.6h-10.6zM154.07,1005.09h10.6v10.6h-10.6zM154.56,1005.32h10.6v10.6h-10.6zM154.56,1007.18h10.6v10.6h-10.6zM155.06,1005.4h10.6v10.6h-10.6zM155.55,1005.48h10.6v10.6h-10.6zM155.55,1007.34h10.6v10.6h-10.6zM156.04,1005.55h10.6v10.6h-10.6zM156.54,1005.63h10.6v10.6h-10.6zM156.54,1007.5h10.6v10.6h-10.6zM157.03,1005.71h10.6v10.6h-10.6zM157.52,1005.79h10.6v10.6h-10.6zM157.52,1007.66h10.6v10.6h-10.6zM158.02,1005.87h10.6v10.6h-10.6zM158.51,1005.95h10.6v10.6h-10.6zM158.51,1007.83h10.6v10.6h-10.6zM159,1006.03h10.6v10.6h-10.6zM159.5,1006.11h10.6v10.6h-10.6zM159.5,1007.99h10.6v10.6h-10.6zM159.99,1006.19h10.6v10.6h-10.6zM160.48,1006.27h10.6v10.6h-10.6zM160.48,1008.15h10.6v10.6h-10.6zM160.98,1006.35h10.6v10.6h-10.6zM161.47,1006.42h10.6v10.6h-10.6zM161.47,1008.31h10.6v10.6h-10.6zM161.96,1006.5h10.6v10.6h-10.6zM162.46,1006.58h10.6v10.6h-10.6zM162.46,1008.47h10.6v10.6h-10.6zM162.95,1006.66h10.6v10.6h-10.6zM163.44,1006.74h10.6v10.6h-10.6zM163.44,1008.63h10.6v10.6h-10.6zM163.94,1006.82h10.6v10.6h-10.6zM164.43,1006.96h10.6v10.6h-10.6zM164.43,1008.79h10.6v10.6h-10.6zM164.92,1007.1h10.6v10.6h-10.6zM165.42,1007.25h10.6v10.6h-10.6zM165.42,1008.95h10.6v10.6h-10.6zM165.91,1007.39h10.6v10.6h-10.6zM166.4,1007.53h10.6v10.6h-10.6zM166.4,1009.11h10.6v10.6h-10.6zM166.9,1007.67h10.6v10.6h-10.6zM167.39,1007.81h10.6v10.6h-10.6zM167.39,1009.25h10.6v10.6h-10.6zM167.88,1007.95h10.6v10.6h-10.6zM168.38,1008.1h10.6v10.6h-10.6zM168.38,1009.38h10.6v10.6h-10.6zM168.87,1008.24h10.6v10.6h-10.6zM169.36,1008.38h10.6v10.6h-10.6zM169.36,1009.51h10.6v10.6h-10.6zM169.86,1008.52h10.6v10.6h-10.6zM170.35,1008.66h10.6v10.6h-10.6zM170.35,1009.65h10.6v10.6h-10.6zM170.84,1008.8h10.6v10.6h-10.6zM171.34,1008.95h10.6v10.6h-10.6zM171.34,1009.78h10.6v10.6h-10.6zM171.83,1009.09h10.6v10.6h-10.6zM172.32,1009.23h10.6v10.6h-10.6zM172.32,1009.92h10.6v10.6h-10.6zM172.82,1009.37h10.6v10.6h-10.6zM173.31,1009.51h10.6v10.6h-10.6zM173.31,1010.05h10.6v10.6h-10.6zM173.8,1009.65h10.6v10.6h-10.6zM174.3,1009.8h10.6v10.6h-10.6zM174.3,1010.18h10.6v10.6h-10.6zM174.79,1009.94h10.6v10.6h-10.6zM175.29,1010.08h10.6v10.6h-10.6zM175.29,1010.32h10.6v10.6h-10.6zM175.78,1010.22h10.6v10.6h-10.6zM176.27,1010.36h10.6v10.6h-10.6zM176.27,1010.45h10.6v10.6h-10.6zM176.77,1010.5h10.6v10.6h-10.6zM177.26,1010.65h10.6v10.6h-10.6zM177.26,1010.59h10.6v10.6h-10.6zM177.75,1010.79h10.6v10.6h-10.6zM178.25,1010.93h10.6v10.6h-10.6zM178.25,1010.72h10.6v10.6h-10.6zM178.74,1011.07h10.6v10.6h-10.6zM179.23,1011.21h10.6v10.6h-10.6zM179.23,1010.85h10.6v10.6h-10.6zM179.73,1011.28h10.6v10.6h-10.6zM180.22,1011.28h10.6v10.6h-10.6zM180.22,1010.99h10.6v10.6h-10.6zM180.71,1011.28h10.6v10.6h-10.6zM181.21,1011.28h10.6v10.6h-10.6zM181.21,1011.12h10.6v10.6h-10.6zM181.7,1011.28h10.6v10.6h-10.6zM182.19,1011.28h10.6v10.6h-10.6zM182.69,1011.28h10.6v10.6h-10.6zM183.18,1011.28h10.6v10.6h-10.6zM183.67,1011.28h10.6v10.6h-10.6zM184.17,1011.28h10.6v10.6h-10.6zM184.66,1011.28h10.6v10.6h-10.6zM185.15,1011.28h10.6v10.6h-10.6zM185.65,1011.28h10.6v10.6h-10.6zM186.14,1011.28h10.6v10.6h-10.6zM186.63,1011.28h10.6v10.6h-10.6zM187.13,1011.28h10.6v10.6h-10.6zM187.62,1011.28h10.6v10.6h-10.6zM188.11,1011.28h10.6v10.6h-10.6zM188.61,1011.28h10.6v10.6h-10.6zM189.1,1011.28h10.6v10.6h-10.6zM189.59,1011.31h10.6v10.6h-10.6zM190.09,1011.34h10.6v10.6h-10.6zM190.58,1011.37h10.6v10.6h-10.6zM191.07,1011.4h10.6v10.6h-10.6zM191.57,1011.42h10.6v10.6h-10.6zM192.06,1011.45h10.6v10.6h-10.6zM192.55,1011.48h10.6v10.6h-10.6zM193.05,1011.51h10.6v10.6h-10.6zM193.54,1011.54h10.6v10.6h-10.6zM194.03,1011.57h10.6v10.6h-10.6zM194.53,1011.59h10.6v10.6h-10.6zM195.02,1011.62h10.6v10.6h-10.6zM195.51,1011.65h10.6v10.6h-10.6zM196.01,1011.68h10.6v10.6h-10.6z" fill="#6C4791"/>
<polyline points="201.31,1016.98 202.36,1017.04 203.42,1017.1 204.48,1017.16 205.53,1017.22 206.59,1017.28 207.65,1017.34 208.7,1017.4 209.76,1017.46 210.82,1017.52 211.87,1017.58 212.93,1017.64 213.99,1017.7 215.04,1017.76 216.1,1017.82 217.16,1017.88 218.21,1017.94 219.27,1018.01 220.32,1018.07 221.38,1018.13 222.44,1018.19 223.49,1018.25 224.55,1018.31 225.61,1018.37 226.66,1018.43 227.72,1018.49 228.78,1018.55 229.83,1018.61 230.89,1018.67 231.95,1018.73 233,1018.79 234.06,1018.85 235.12,1018.91 236.17,1018.97 237.23,1019.03 238.29,1019.09 239.34,1019.15 240.4,1019.21 241.45,1019.26 242.51,1019.3 243.57,1019.34 244.62,1019.38 245.68,1019.41 246.74,1019.45 247.79,1019.49 248.85,1019.53 249.91,1019.57 250.96,1019.61 252.02,1019.65 253.08,1019.68 254.13,1019.72 255.19,1019.76 256.25,1019.8 257.3,1019.84 258.36,1019.88 259.42,1019.91 260.47,1019.95 261.53,1019.99 262.58,1020.03 263.64,1020.07 264.7,1020.11 265.75,1020.15 266.81,1020.18 267.87,1020.22 268.92,1020.26 269.98,1020.3 271.04,1020.34 272.09,1020.38 273.15,1020.42 274.21,1020.45 275.26,1020.49 276.32,1020.53 277.38,1020.57 278.43,1020.61 279.49,1020.65 280.54,1020.68 281.6,1020.72 282.66,1020.76 283.71,1020.8 284.77,1020.84 285.83,1020.88 286.88,1020.92 287.94,1020.95 289,1020.99 290.05,1021.03 291.11,1021.07 292.17,1021.11 293.22,1021.15 294.28,1021.19 295.34,1021.22 296.39,1021.26 297.45,1021.3 298.51,1021.34 299.56,1021.38 300.62,1021.42 301.67,1021.45 302.73,1021.48 303.79,1021.5 304.84,1021.53 305.9,1021.55 306.96,1021.58 308.01,1021.6 309.07,1021.63 310.13,1021.65 311.18,1021.68 312.24,1021.7 313.3,1021.72 314.35,1021.75 315.41,1021.77 316.47,1021.8 317.52,1021.82 318.58,1021.85 319.64,1021.87 320.69,1021.9 321.75,1021.92 322.8,1021.95 323.86,1021.97 324.92,1022 325.97,1022.02 327.03,1022.05 328.09,1022.07 329.14,1022.1 330.2,1022.12 331.26,1022.15 332.31,1022.17 333.37,1022.2 334.43,1022.22 335.48,1022.25 336.54,1022.27 337.6,1022.3 338.65,1022.32 339.71,1022.34 340.77,1022.37 341.82,1022.39 342.88,1022.42 343.93,1022.44 344.99,1022.47 346.05,1022.49 347.1,1022.52 348.16,1022.54 349.22,1022.57 350.27,1022.59 351.33,1022.62 352.39,1022.64 353.44,1022.67 354.5,1022.69 355.56,1022.72 356.61,1022.74 357.67,1022.77 358.73,1022.79 359.78,1022.82 360.84,1022.84 361.89,1022.87 362.95,1022.89 364.01,1022.92 365.06,1022.94 366.12,1022.96 367.18,1022.99 368.23,1023.01 369.29,1023.04 370.35,1023.06 371.4,1023.09 372.46,1023.11 373.52,1023.14 374.57,1023.16 375.63,1023.19 376.69,1023.21 377.74,1023.24 378.8,1023.26 379.86,1023.29 380.91,1023.31 381.97,1023.34 383.02,1023.36 384.08,1023.39 385.14,1023.41 386.19,1023.44 387.25,1023.46 388.31,1023.49 389.36,1023.5 390.42,1023.51 391.48,1023.52 392.53,1023.53 393.59,1023.53 394.65,1023.54 395.7,1023.55 396.76,1023.56 397.82,1023.57 398.87,1023.57 399.93,1023.58 400.99,1023.59 402.04,1023.6 403.1,1023.6 404.15,1023.61 405.21,1023.62 406.27,1023.63 407.32,1023.64 408.38,1023.64 409.44,1023.65 410.49,1023.66 411.55,1023.67 412.61,1023.68 413.66,1023.68 414.72,1023.69 415.78,1023.7 416.83,1023.71 417.89,1023.72 418.95,1023.72 420,1023.73 421.06,1023.74 422.11,1023.75 423.17,1023.76 424.23,1023.76 425.28,1023.77 426.34,1023.78 427.4,1023.79 428.45,1023.8 429.51,1023.8 430.57,1023.81 431.62,1023.82 432.68,1023.83 433.74,1023.84 434.79,1023.84 435.85,1023.85 436.91,1023.86 437.96,1023.87 439.02,1023.88 440.08,1023.88 441.13,1023.89 442.19,1023.9 443.24,1023.91 444.3,1023.92 445.36,1023.92 446.41,1023.93 447.47,1023.94 448.53,1023.95 449.58,1023.96 450.64,1023.96 451.7,1023.97 452.75,1023.98 453.81,1023.99 454.87,1024 455.92,1024 456.98,1024.01 458.04,1024.02 459.09,1024.03 460.15,1024.03 461.21,1024.04 462.26,1024.05 463.32,1024.06 464.37,1024.07 465.43,1024.07 466.49,1024.08 467.54,1024.09 468.6,1024.1 469.66,1024.11 470.71,1024.11 471.77,1024.12 472.83,1024.13 473.88,1024.14 474.94,1024.15 476,1024.15 477.05,1024.16 478.11,1024.17 479.17,1024.18 480.22,1024.19 481.28,1024.19 482.34,1024.2 483.39,1024.21 484.45,1024.22 485.5,1024.23 486.56,1024.23 487.62,1024.24 488.67,1024.25 489.73,1024.26 490.79,1024.27 491.84,1024.27 492.9,1024.28 493.96,1024.29 495.01,1024.3 496.07,1024.31 497.13,1024.31 498.18,1024.32 499.24,1024.33 500.3,1024.34 501.35,1024.35 502.41,1024.35 503.46,1024.36 504.52,1024.37 505.58,1024.38 506.63,1024.39 507.69,1024.39 508.75,1024.4 509.8,1024.41 510.86,1024.42 511.92,1024.43 512.97,1024.43 514.03,1024.44 515.09,1024.45 516.14,1024.46 517.2,1024.46 518.26,1024.47 519.31,1024.48 520.37,1024.49 521.43,1024.5 522.48,1024.5 523.54,1024.51 524.59,1024.52 525.65,1024.53 526.71,1024.54 527.76,1024.54 528.82,1024.55 529.88,1024.56 530.93,1024.57 531.99,1024.58 533.05,1024.58 534.1,1024.59 535.16,1024.6 536.22,1024.61 537.27,1024.62 538.33,1024.62 539.39,1024.63 540.44,1024.64 541.5,1024.65 542.56,1024.66 543.61,1024.66 544.67,1024.67 545.72,1024.68 546.78,1024.69 547.84,1024.7 548.89,1024.7 549.95,1024.71 551.01,1024.72 552.06,1024.73 553.12,1024.74 554.18,1024.74 555.23,1024.75 556.29,1024.76 557.35,1024.77 558.4,1024.78 559.46,1024.78 560.52,1024.79 561.57,1024.8 562.63,1024.81 563.69,1024.82 564.74,1024.82 565.8,1024.83 566.85,1024.84 567.91,1024.85 568.97,1024.86 570.02,1024.86 571.08,1024.87 572.14,1024.88 573.19,1024.89 574.25,1024.89 575.31,1024.9 576.36,1024.91 577.42,1024.92 578.48,1024.93 579.53,1024.93 580.59,1024.94 581.65,1024.95 582.7,1024.96 583.76,1024.97 584.81,1024.97 585.87,1024.98 586.93,1024.98 587.98,1024.98 589.04,1024.98 590.1,1024.98 591.15,1024.98 592.21,1024.98 593.27,1024.98 594.32,1024.98 595.38,1024.98 596.44,1024.98 597.49,1024.98 598.55,1024.98 599.61,1024.98 600.66,1024.98 601.72,1024.98 602.78,1024.98 603.83,1024.98 604.89,1024.98 605.94,1024.98 607,1024.98 608.06,1024.98 609.11,1024.98 610.17,1024.98 611.23,1024.98 612.28,1024.98 613.34,1024.98 614.4,1024.98 615.45,1024.98 616.51,1024.98 617.57,1024.1 618.62,1022.96 619.68,1022.85 620.74,1022.85 621.79,1022.85 622.85,1022.85 623.91,1022.85" fill="none" stroke="#6C4791" stroke-width="10.6" stroke-linejoin="round" stroke-linecap="square"/>
<rect x="175.1" y="1005.1" width="11.6" height="9" fill="#6C4791"/>
<polyline points="142.1,1022.09 144.51,1022.29 146.92,1022.5 149.33,1022.7 151.74,1022.91 154.15,1023.11 156.55,1023.32 158.96,1023.52 161.37,1023.72 163.78,1023.93 166.19,1024.13 168.6,1024.34 171.01,1024.54 173.42,1024.75 175.83,1024.95 178.24,1025.16 180.64,1025.36 183.05,1025.57 185.46,1025.77 187.87,1025.98 190.28,1026.18 192.69,1026.39 195.1,1026.59 197.51,1026.8 199.92,1027 202.33,1027.09 204.73,1027.17 207.14,1027.26 209.55,1027.35 211.96,1027.44 214.37,1027.52 216.78,1027.61 219.19,1027.7 221.6,1027.79 224.01,1027.87 226.42,1027.96 228.82,1028.05 231.23,1028.14 233.64,1028.22 236.05,1028.31 238.46,1028.4 240.87,1028.48 243.28,1028.54 245.69,1028.6 248.1,1028.66 250.51,1028.72 252.92,1028.78 255.32,1028.84 257.73,1028.9 260.14,1028.96 262.55,1029.01 264.96,1029.07 267.37,1029.13 269.78,1029.19 272.19,1029.25 274.6,1029.31 277.01,1029.37 279.41,1029.43 281.82,1029.49 284.23,1029.54 286.64,1029.6 289.05,1029.66 291.46,1029.71 293.87,1029.74 296.28,1029.77 298.69,1029.8 301.1,1029.83 303.5,1029.86 305.91,1029.89 308.32,1029.93 310.73,1029.96 313.14,1029.99 315.55,1030.02 317.96,1030.05 320.37,1030.08 322.78,1030.11 325.19,1030.15 327.59,1030.18 330,1030.21 332.41,1030.24 334.82,1030.27 337.23,1030.3 339.64,1030.33 342.05,1030.36 344.46,1030.4 346.87,1030.43 349.28,1030.46 351.69,1030.49 354.09,1030.52 356.5,1030.55 358.91,1030.58 361.32,1030.62 363.73,1030.65 366.14,1030.68 368.55,1030.71 370.96,1030.74 373.37,1030.77 375.78,1030.8 378.18,1030.84 380.59,1030.87 383,1030.9 385.41,1030.93 387.82,1030.96 390.23,1030.98 392.64,1031 395.05,1031.01 397.46,1031.03 399.87,1031.04 402.27,1031.05 404.68,1031.07 407.09,1031.08 409.5,1031.1 411.91,1031.11 414.32,1031.12 416.73,1031.14 419.14,1031.15 421.55,1031.17 423.96,1031.18 426.37,1031.19 428.77,1031.21 431.18,1031.22 433.59,1031.24 436,1031.25 438.41,1031.27 440.82,1031.28 443.23,1031.29 445.64,1031.31 448.05,1031.32 450.46,1031.34 452.86,1031.35 455.27,1031.36 457.68,1031.38 460.09,1031.39 462.5,1031.41 464.91,1031.42 467.32,1031.44 469.73,1031.45 472.14,1031.46 474.55,1031.48 476.95,1031.49 479.36,1031.51 481.77,1031.52 484.18,1031.53 486.59,1031.55 489,1031.56 491.41,1031.58 493.82,1031.59 496.23,1031.6 498.64,1031.62 501.04,1031.63 503.45,1031.65 505.86,1031.66 508.27,1031.68 510.68,1031.69 513.09,1031.7 515.5,1031.71 517.91,1031.72 520.32,1031.73 522.73,1031.74 525.14,1031.74 527.54,1031.75 529.95,1031.76 532.36,1031.77 534.77,1031.78 537.18,1031.79 539.59,1031.8 542,1031.81 544.41,1031.81 546.82,1031.82 549.23,1031.83 551.63,1031.84 554.04,1031.85 556.45,1031.86 558.86,1031.87 561.27,1031.87 563.68,1031.88 566.09,1031.89 568.5,1031.9 570.91,1031.91 573.32,1031.92 575.72,1031.93 578.13,1031.94 580.54,1031.94 582.95,1031.95 585.36,1031.96 587.77,1031.97 590.18,1031.98 592.59,1031.99 595,1032 597.41,1032 599.81,1032.01 602.22,1032.02 604.63,1032.03 607.04,1032.04 609.45,1032.05 611.86,1032.06 614.27,1032.07 616.68,1032.07 619.09,1032.08 621.5,1032.09 623.91,1032.1" fill="none" stroke="#2A4393" stroke-width="11.8" stroke-linejoin="round" stroke-linecap="round"/>
<circle cx="171" cy="687.9" r="5.4" fill="#2A4393"/>
<rect x="165.5" y="730" width="11" height="11" fill="#6C4791"/>
<circle cx="171.2" cy="787.6" r="5.5" fill="#B8488F"/>
<text x="213" y="697" font-size="27.7" font-weight="normal" font-style="normal" text-anchor="start" fill="#000" >no NdasCDO</text>
<text x="213" y="744.4" font-size="27.7" font-weight="normal" font-style="normal" text-anchor="start" fill="#000" >no cFP</text>
<text x="213" y="797.6" font-size="27.7" font-weight="normal" font-style="normal" text-anchor="start" fill="#000" >NdasCDO + cFP</text>
<text x="705.5" y="667.6" font-size="56" font-weight="bold" font-style="normal" text-anchor="start" fill="#000" >d</text>
<text x="811" y="639.7" font-size="23.3" font-weight="bold" font-style="normal" text-anchor="start" fill="#000" >Cyclo(Phe-Gly)</text>
<text x="1198" y="641.4" font-size="23.3" font-weight="bold">Cyclo(Phe<tspan font-size="17.5" dy="5.5">ox</tspan><tspan dy="-5.5">-Gly)</tspan></text>
<line x1="839.4" y1="669.4" x2="866.5" y2="684.4" stroke="#000" stroke-width="2.6" stroke-linecap="butt" /><circle cx="839.4" cy="669.4" r="1.3" fill="#000"/><circle cx="866.5" cy="684.4" r="1.3" fill="#000"/>
<line x1="866.5" y1="684.4" x2="866.5" y2="714.5" stroke="#000" stroke-width="2.6" stroke-linecap="butt" /><circle cx="866.5" cy="684.4" r="1.3" fill="#000"/><circle cx="866.5" cy="714.5" r="1.3" fill="#000"/>
<line x1="866.5" y1="714.5" x2="839.4" y2="730" stroke="#000" stroke-width="2.6" stroke-linecap="butt" /><circle cx="866.5" cy="714.5" r="1.3" fill="#000"/><circle cx="839.4" cy="730" r="1.3" fill="#000"/>
<line x1="839.4" y1="730" x2="812.3" y2="714.5" stroke="#000" stroke-width="2.6" stroke-linecap="butt" /><circle cx="839.4" cy="730" r="1.3" fill="#000"/><circle cx="812.3" cy="714.5" r="1.3" fill="#000"/>
<line x1="812.3" y1="714.5" x2="812.3" y2="684.4" stroke="#000" stroke-width="2.6" stroke-linecap="butt" /><circle cx="812.3" cy="714.5" r="1.3" fill="#000"/><circle cx="812.3" cy="684.4" r="1.3" fill="#000"/>
<line x1="812.3" y1="684.4" x2="839.4" y2="669.4" stroke="#000" stroke-width="2.6" stroke-linecap="butt" /><circle cx="812.3" cy="684.4" r="1.3" fill="#000"/><circle cx="839.4" cy="669.4" r="1.3" fill="#000"/>
<line x1="839.5" y1="676.66" x2="860.3" y2="688.17" stroke="#000" stroke-width="2.6" stroke-linecap="butt" />
<line x1="860.25" y1="710.82" x2="839.4" y2="722.74" stroke="#000" stroke-width="2.6" stroke-linecap="butt" />
<line x1="818.6" y1="710.9" x2="818.6" y2="688" stroke="#000" stroke-width="2.6" stroke-linecap="butt" />
<line x1="866.5" y1="714.5" x2="892.8" y2="730.3" stroke="#000" stroke-width="2.6" stroke-linecap="butt" /><circle cx="866.5" cy="714.5" r="1.3" fill="#000"/><circle cx="892.8" cy="730.3" r="1.3" fill="#000"/>
<line x1="920.6" y1="714.5" x2="920.6" y2="684.5" stroke="#000" stroke-width="2.6" stroke-linecap="butt" /><circle cx="920.6" cy="714.5" r="1.3" fill="#000"/><circle cx="920.6" cy="684.5" r="1.3" fill="#000"/>
<line x1="920.6" y1="684.5" x2="939.56" y2="674.14" stroke="#000" stroke-width="2.6" stroke-linecap="butt" /><circle cx="920.6" cy="684.5" r="1.3" fill="#000"/>
<line x1="957.58" y1="674.24" x2="975.5" y2="684.3" stroke="#000" stroke-width="2.6" stroke-linecap="butt" /><circle cx="975.5" cy="684.3" r="1.3" fill="#000"/>
<line x1="975.5" y1="684.3" x2="975.5" y2="714.5" stroke="#000" stroke-width="2.6" stroke-linecap="butt" /><circle cx="975.5" cy="684.3" r="1.3" fill="#000"/><circle cx="975.5" cy="714.5" r="1.3" fill="#000"/>
<line x1="975.5" y1="714.5" x2="957.51" y2="724.93" stroke="#000" stroke-width="2.6" stroke-linecap="butt" /><circle cx="975.5" cy="714.5" r="1.3" fill="#000"/>
<line x1="939.6" y1="725.09" x2="920.6" y2="714.5" stroke="#000" stroke-width="2.6" stroke-linecap="butt" /><circle cx="920.6" cy="714.5" r="1.3" fill="#000"/>
<line x1="922.19" y1="681.67" x2="903.53" y2="671.17" stroke="#000" stroke-width="2.6" stroke-linecap="butt" /><line x1="919.01" y1="687.33" x2="900.35" y2="676.84" stroke="#000" stroke-width="2.6" stroke-linecap="butt" />
<line x1="973.86" y1="717.3" x2="991.5" y2="727.65" stroke="#000" stroke-width="2.6" stroke-linecap="butt" /><line x1="977.14" y1="711.7" x2="994.79" y2="722.04" stroke="#000" stroke-width="2.6" stroke-linecap="butt" />
<polygon points="920.6,713.9 920.6,715.1 893.76,734.01 890.1,727.58" fill="#B05A9D"/>
<line x1="893.2" y1="732" x2="888.9" y2="748.6" stroke="#B05A9D" stroke-width="3.2" stroke-linecap="butt" />
<line x1="920.6" y1="715" x2="920.6" y2="735.2" stroke="#B05A9D" stroke-width="2.6" stroke-linecap="butt" />
<text x="885.4" y="765.89" font-size="17.3" font-weight="normal" font-style="normal" text-anchor="middle" fill="#B05A9D" >H</text>
<text x="921.5" y="751.19" font-size="17.3" font-weight="normal" font-style="normal" text-anchor="middle" fill="#B05A9D" >H</text>
<text x="948.6" y="675.39" font-size="17.3" font-weight="normal" font-style="normal" text-anchor="middle" fill="#000" >N</text>
<text x="948.6" y="660.09" font-size="17.3" font-weight="normal" font-style="normal" text-anchor="middle" fill="#000" >H</text>
<text x="948.6" y="736.29" font-size="17.3" font-weight="normal" font-style="normal" text-anchor="middle" fill="#000" >N</text>
<text x="948.6" y="751.19" font-size="17.3" font-weight="normal" font-style="normal" text-anchor="middle" fill="#000" >H</text>
<text x="893.4" y="675.39" font-size="17.3" font-weight="normal" font-style="normal" text-anchor="middle" fill="#000" >O</text>
<text x="1001.6" y="735.99" font-size="17.3" font-weight="normal" font-style="normal" text-anchor="middle" fill="#000" >O</text>
<line x1="1229.4" y1="677" x2="1256.5" y2="692" stroke="#000" stroke-width="2.6" stroke-linecap="butt" /><circle cx="1229.4" cy="677" r="1.3" fill="#000"/><circle cx="1256.5" cy="692" r="1.3" fill="#000"/>
<line x1="1256.5" y1="692" x2="1256.5" y2="722.1" stroke="#000" stroke-width="2.6" stroke-linecap="butt" /><circle cx="1256.5" cy="692" r="1.3" fill="#000"/><circle cx="1256.5" cy="722.1" r="1.3" fill="#000"/>
<line x1="1256.5" y1="722.1" x2="1229.4" y2="737.6" stroke="#000" stroke-width="2.6" stroke-linecap="butt" /><circle cx="1256.5" cy="722.1" r="1.3" fill="#000"/><circle cx="1229.4" cy="737.6" r="1.3" fill="#000"/>
<line x1="1229.4" y1="737.6" x2="1202.3" y2="722.1" stroke="#000" stroke-width="2.6" stroke-linecap="butt" /><circle cx="1229.4" cy="737.6" r="1.3" fill="#000"/><circle cx="1202.3" cy="722.1" r="1.3" fill="#000"/>
<line x1="1202.3" y1="722.1" x2="1202.3" y2="692" stroke="#000" stroke-width="2.6" stroke-linecap="butt" /><circle cx="1202.3" cy="722.1" r="1.3" fill="#000"/><circle cx="1202.3" cy="692" r="1.3" fill="#000"/>
<line x1="1202.3" y1="692" x2="1229.4" y2="677" stroke="#000" stroke-width="2.6" stroke-linecap="butt" /><circle cx="1202.3" cy="692" r="1.3" fill="#000"/><circle cx="1229.4" cy="677" r="1.3" fill="#000"/>
<line x1="1229.5" y1="684.26" x2="1250.3" y2="695.77" stroke="#000" stroke-width="2.6" stroke-linecap="butt" />
<line x1="1250.25" y1="718.42" x2="1229.4" y2="730.34" stroke="#000" stroke-width="2.6" stroke-linecap="butt" />
<line x1="1208.6" y1="718.5" x2="1208.6" y2="695.6" stroke="#000" stroke-width="2.6" stroke-linecap="butt" />
<line x1="1256.5" y1="722.1" x2="1282.8" y2="737.9" stroke="#000" stroke-width="2.6" stroke-linecap="butt" /><circle cx="1256.5" cy="722.1" r="1.3" fill="#000"/><circle cx="1282.8" cy="737.9" r="1.3" fill="#000"/>
<line x1="1310.6" y1="722.1" x2="1310.6" y2="692.1" stroke="#000" stroke-width="2.6" stroke-linecap="butt" /><circle cx="1310.6" cy="722.1" r="1.3" fill="#000"/><circle cx="1310.6" cy="692.1" r="1.3" fill="#000"/>
<line x1="1310.6" y1="692.1" x2="1329.56" y2="681.74" stroke="#000" stroke-width="2.6" stroke-linecap="butt" /><circle cx="1310.6" cy="692.1" r="1.3" fill="#000"/>
<line x1="1347.58" y1="681.84" x2="1365.5" y2="691.9" stroke="#000" stroke-width="2.6" stroke-linecap="butt" /><circle cx="1365.5" cy="691.9" r="1.3" fill="#000"/>
<line x1="1365.5" y1="691.9" x2="1365.5" y2="722.1" stroke="#000" stroke-width="2.6" stroke-linecap="butt" /><circle cx="1365.5" cy="691.9" r="1.3" fill="#000"/><circle cx="1365.5" cy="722.1" r="1.3" fill="#000"/>
<line x1="1365.5" y1="722.1" x2="1347.51" y2="732.53" stroke="#000" stroke-width="2.6" stroke-linecap="butt" /><circle cx="1365.5" cy="722.1" r="1.3" fill="#000"/>
<line x1="1329.6" y1="732.69" x2="1310.6" y2="722.1" stroke="#000" stroke-width="2.6" stroke-linecap="butt" /><circle cx="1310.6" cy="722.1" r="1.3" fill="#000"/>
<line x1="1312.19" y1="689.27" x2="1293.53" y2="678.77" stroke="#000" stroke-width="2.6" stroke-linecap="butt" /><line x1="1309.01" y1="694.93" x2="1290.35" y2="684.44" stroke="#000" stroke-width="2.6" stroke-linecap="butt" />
<line x1="1363.86" y1="724.9" x2="1381.5" y2="735.25" stroke="#000" stroke-width="2.6" stroke-linecap="butt" /><line x1="1367.14" y1="719.3" x2="1384.79" y2="729.64" stroke="#000" stroke-width="2.6" stroke-linecap="butt" />
<line x1="1282.8" y1="737.9" x2="1310.6" y2="722.1" stroke="#B05A9D" stroke-width="2.6" stroke-linecap="butt" /><circle cx="1282.8" cy="737.9" r="1.3" fill="#B05A9D"/><circle cx="1310.6" cy="722.1" r="1.3" fill="#B05A9D"/>
<line x1="1282.21" y1="731.8" x2="1303.92" y2="719.45" stroke="#B05A9D" stroke-width="2.6" stroke-linecap="butt" />
<text x="1338.6" y="682.99" font-size="17.3" font-weight="normal" font-style="normal" text-anchor="middle" fill="#000" >N</text>
<text x="1338.6" y="667.69" font-size="17.3" font-weight="normal" font-style="normal" text-anchor="middle" fill="#000" >H</text>
<text x="1338.6" y="743.89" font-size="17.3" font-weight="normal" font-style="normal" text-anchor="middle" fill="#000" >N</text>
<text x="1338.6" y="758.79" font-size="17.3" font-weight="normal" font-style="normal" text-anchor="middle" fill="#000" >H</text>
<text x="1283.4" y="682.99" font-size="17.3" font-weight="normal" font-style="normal" text-anchor="middle" fill="#000" >O</text>
<text x="1391.6" y="743.59" font-size="17.3" font-weight="normal" font-style="normal" text-anchor="middle" fill="#000" >O</text>
<path d="M1025.47,690.88 L1121.31,696.25 L1121.31,697.18 L1028.82,700.94 L1027.48,738.47 L1021.85,698.26 Q1021.85,690.88 1025.47,690.88Z" fill="#8487BF"/>
<polygon points="1119.3,669.17 1177.61,708.98 1169.17,706.03 1123.99,680.56 1117.29,691.82" fill="#88A6D4"/>
<polygon points="1028.82,700.94 1119.71,702.01 1121.31,682.17 1177.61,708.98 1119.3,744.91 1119.3,719.97 1032.17,738.74" fill="#A68BB7"/>
<polygon points="1042.9,739.54 1124.66,708.98 1124.66,725.74 1171.98,706.3 1174.93,707.91 1116.89,740.62 1116.89,720.78" fill="#88A6D4"/>
<line x1="872.9" y1="851.3" x2="900" y2="866.3" stroke="#8A2A83" stroke-width="2.6" stroke-linecap="butt" /><circle cx="872.9" cy="851.3" r="1.3" fill="#8A2A83"/><circle cx="900" cy="866.3" r="1.3" fill="#8A2A83"/>
<line x1="900" y1="866.3" x2="900" y2="896.4" stroke="#8A2A83" stroke-width="2.6" stroke-linecap="butt" /><circle cx="900" cy="866.3" r="1.3" fill="#8A2A83"/><circle cx="900" cy="896.4" r="1.3" fill="#8A2A83"/>
<line x1="900" y1="896.4" x2="872.9" y2="911.4" stroke="#8A2A83" stroke-width="2.6" stroke-linecap="butt" /><circle cx="900" cy="896.4" r="1.3" fill="#8A2A83"/><circle cx="872.9" cy="911.4" r="1.3" fill="#8A2A83"/>
<line x1="872.9" y1="911.4" x2="845.8" y2="896.4" stroke="#8A2A83" stroke-width="2.6" stroke-linecap="butt" /><circle cx="872.9" cy="911.4" r="1.3" fill="#8A2A83"/><circle cx="845.8" cy="896.4" r="1.3" fill="#8A2A83"/>
<line x1="845.8" y1="896.4" x2="845.8" y2="866.3" stroke="#8A2A83" stroke-width="2.6" stroke-linecap="butt" /><circle cx="845.8" cy="896.4" r="1.3" fill="#8A2A83"/><circle cx="845.8" cy="866.3" r="1.3" fill="#8A2A83"/>
<line x1="845.8" y1="866.3" x2="872.9" y2="851.3" stroke="#8A2A83" stroke-width="2.6" stroke-linecap="butt" /><circle cx="845.8" cy="866.3" r="1.3" fill="#8A2A83"/><circle cx="872.9" cy="851.3" r="1.3" fill="#8A2A83"/>
<line x1="851.95" y1="869.98" x2="872.75" y2="858.47" stroke="#8A2A83" stroke-width="2.6" stroke-linecap="butt" />
<line x1="893.8" y1="869.9" x2="893.8" y2="892.8" stroke="#8A2A83" stroke-width="2.6" stroke-linecap="butt" />
<line x1="872.75" y1="904.23" x2="851.95" y2="892.72" stroke="#8A2A83" stroke-width="2.6" stroke-linecap="butt" />
<line x1="900" y1="866.3" x2="917.83" y2="856.43" stroke="#8A2A83" stroke-width="2.6" stroke-linecap="butt" /><circle cx="900" cy="866.3" r="1.3" fill="#8A2A83"/>
<line x1="900" y1="896.4" x2="917.83" y2="906.27" stroke="#8A2A83" stroke-width="2.6" stroke-linecap="butt" /><circle cx="900" cy="896.4" r="1.3" fill="#8A2A83"/>
<line x1="936.37" y1="906.27" x2="954.2" y2="896.4" stroke="#8A2A83" stroke-width="2.6" stroke-linecap="butt" /><circle cx="954.2" cy="896.4" r="1.3" fill="#8A2A83"/>
<line x1="954.2" y1="866.3" x2="981.3" y2="851.3" stroke="#8A2A83" stroke-width="2.6" stroke-linecap="butt" /><circle cx="954.2" cy="866.3" r="1.3" fill="#8A2A83"/><circle cx="981.3" cy="851.3" r="1.3" fill="#8A2A83"/>
<line x1="981.3" y1="851.3" x2="999.13" y2="861.17" stroke="#8A2A83" stroke-width="2.6" stroke-linecap="butt" /><circle cx="981.3" cy="851.3" r="1.3" fill="#8A2A83"/>
<line x1="1008.4" y1="876.9" x2="1008.4" y2="896.4" stroke="#8A2A83" stroke-width="2.6" stroke-linecap="butt" /><circle cx="1008.4" cy="896.4" r="1.3" fill="#8A2A83"/>
<line x1="1008.4" y1="896.4" x2="990.57" y2="906.27" stroke="#8A2A83" stroke-width="2.6" stroke-linecap="butt" /><circle cx="1008.4" cy="896.4" r="1.3" fill="#8A2A83"/>
<line x1="984.55" y1="851.3" x2="984.55" y2="830.9" stroke="#8A2A83" stroke-width="2.6" stroke-linecap="butt" /><line x1="978.05" y1="851.3" x2="978.05" y2="830.9" stroke="#8A2A83" stroke-width="2.6" stroke-linecap="butt" />
<line x1="1006.83" y1="899.24" x2="1025.53" y2="909.59" stroke="#8A2A83" stroke-width="2.6" stroke-linecap="butt" /><line x1="1009.97" y1="893.56" x2="1028.67" y2="903.91" stroke="#8A2A83" stroke-width="2.6" stroke-linecap="butt" />
<line x1="845.8" y1="866.3" x2="818.7" y2="851.3" stroke="#8A2A83" stroke-width="2.6" stroke-linecap="butt" /><circle cx="845.8" cy="866.3" r="1.3" fill="#8A2A83"/><circle cx="818.7" cy="851.3" r="1.3" fill="#8A2A83"/>
<line x1="845.8" y1="896.4" x2="818.7" y2="911.4" stroke="#8A2A83" stroke-width="2.6" stroke-linecap="butt" /><circle cx="845.8" cy="896.4" r="1.3" fill="#8A2A83"/><circle cx="818.7" cy="911.4" r="1.3" fill="#8A2A83"/>
<line x1="818.7" y1="851.3" x2="800.15" y2="861.71" stroke="#8A2A83" stroke-width="2.6" stroke-linecap="butt" /><circle cx="818.7" cy="851.3" r="1.3" fill="#8A2A83"/>
<line x1="927.1" y1="921.6" x2="927.1" y2="932.5" stroke="#8A2A83" stroke-width="2.6" stroke-linecap="butt" />
<text x="927.1" y="948.93" font-size="16" font-weight="normal" font-style="normal" text-anchor="middle" fill="#8A2A83" >R</text>
<line x1="936.37" y1="856.43" x2="954.2" y2="866.3" stroke="#8A2A83" stroke-width="2.6" stroke-linecap="butt" /><circle cx="954.2" cy="866.3" r="1.3" fill="#8A2A83"/>
<line x1="932.36" y1="861.41" x2="947.65" y2="869.87" stroke="#8A2A83" stroke-width="2.6" stroke-linecap="butt" />
<line x1="954.2" y1="866.3" x2="954.2" y2="896.4" stroke="#8A2A83" stroke-width="2.6" stroke-linecap="butt" /><circle cx="954.2" cy="866.3" r="1.3" fill="#8A2A83"/><circle cx="954.2" cy="896.4" r="1.3" fill="#8A2A83"/>
<line x1="954.2" y1="896.4" x2="972.03" y2="906.27" stroke="#8A2A83" stroke-width="2.6" stroke-linecap="butt" /><circle cx="954.2" cy="896.4" r="1.3" fill="#8A2A83"/>
<line x1="960.05" y1="892.44" x2="974.29" y2="900.32" stroke="#8A2A83" stroke-width="2.6" stroke-linecap="butt" />
<line x1="783.62" y1="874.78" x2="775.41" y2="883.3" stroke="#8A2A83" stroke-width="2.6" stroke-linecap="butt" />
<text x="776.4" y="895" font-size="17.6" font-weight="normal" font-style="normal" text-anchor="end" fill="#8A2A83" >CDO</text>
<text x="927.1" y="857.49" font-size="17.3" font-weight="normal" font-style="normal" text-anchor="middle" fill="#8A2A83" >N</text>
<text x="927.1" y="917.59" font-size="17.3" font-weight="normal" font-style="normal" text-anchor="middle" fill="#8A2A83" >N</text>
<text x="981.3" y="917.59" font-size="17.3" font-weight="normal" font-style="normal" text-anchor="middle" fill="#8A2A83" >N</text>
<text x="1002.3" y="872.49" font-size="17.3" font-weight="normal" font-style="normal" text-anchor="start" fill="#8A2A83" >NH</text>
<text x="981.3" y="827.29" font-size="17.3" font-weight="normal" font-style="normal" text-anchor="middle" fill="#8A2A83" >O</text>
<text x="1035.5" y="917.59" font-size="17.3" font-weight="normal" font-style="normal" text-anchor="middle" fill="#8A2A83" >O</text>
<text x="791.6" y="872.8" font-size="17.6" font-weight="normal" font-style="normal" text-anchor="middle" fill="#8A2A83" >S</text>
<line x1="1256.3" y1="850.6" x2="1283.4" y2="865.6" stroke="#4676BC" stroke-width="2.6" stroke-linecap="butt" /><circle cx="1256.3" cy="850.6" r="1.3" fill="#4676BC"/><circle cx="1283.4" cy="865.6" r="1.3" fill="#4676BC"/>
<line x1="1283.4" y1="865.6" x2="1283.4" y2="895.7" stroke="#4676BC" stroke-width="2.6" stroke-linecap="butt" /><circle cx="1283.4" cy="865.6" r="1.3" fill="#4676BC"/><circle cx="1283.4" cy="895.7" r="1.3" fill="#4676BC"/>
<line x1="1283.4" y1="895.7" x2="1256.3" y2="910.7" stroke="#4676BC" stroke-width="2.6" stroke-linecap="butt" /><circle cx="1283.4" cy="895.7" r="1.3" fill="#4676BC"/><circle cx="1256.3" cy="910.7" r="1.3" fill="#4676BC"/>
<line x1="1256.3" y1="910.7" x2="1229.2" y2="895.7" stroke="#4676BC" stroke-width="2.6" stroke-linecap="butt" /><circle cx="1256.3" cy="910.7" r="1.3" fill="#4676BC"/><circle cx="1229.2" cy="895.7" r="1.3" fill="#4676BC"/>
<line x1="1229.2" y1="895.7" x2="1229.2" y2="865.6" stroke="#4676BC" stroke-width="2.6" stroke-linecap="butt" /><circle cx="1229.2" cy="895.7" r="1.3" fill="#4676BC"/><circle cx="1229.2" cy="865.6" r="1.3" fill="#4676BC"/>
<line x1="1229.2" y1="865.6" x2="1256.3" y2="850.6" stroke="#4676BC" stroke-width="2.6" stroke-linecap="butt" /><circle cx="1229.2" cy="865.6" r="1.3" fill="#4676BC"/><circle cx="1256.3" cy="850.6" r="1.3" fill="#4676BC"/>
<line x1="1235.35" y1="869.28" x2="1256.15" y2="857.77" stroke="#4676BC" stroke-width="2.6" stroke-linecap="butt" />
<line x1="1277.2" y1="869.2" x2="1277.2" y2="892.1" stroke="#4676BC" stroke-width="2.6" stroke-linecap="butt" />
<line x1="1256.15" y1="903.53" x2="1235.35" y2="892.02" stroke="#4676BC" stroke-width="2.6" stroke-linecap="butt" />
<line x1="1283.4" y1="865.6" x2="1301.23" y2="855.73" stroke="#4676BC" stroke-width="2.6" stroke-linecap="butt" /><circle cx="1283.4" cy="865.6" r="1.3" fill="#4676BC"/>
<line x1="1283.4" y1="895.7" x2="1301.23" y2="905.57" stroke="#4676BC" stroke-width="2.6" stroke-linecap="butt" /><circle cx="1283.4" cy="895.7" r="1.3" fill="#4676BC"/>
<line x1="1319.77" y1="905.57" x2="1337.6" y2="895.7" stroke="#4676BC" stroke-width="2.6" stroke-linecap="butt" /><circle cx="1337.6" cy="895.7" r="1.3" fill="#4676BC"/>
<line x1="1337.6" y1="865.6" x2="1364.7" y2="850.6" stroke="#4676BC" stroke-width="2.6" stroke-linecap="butt" /><circle cx="1337.6" cy="865.6" r="1.3" fill="#4676BC"/><circle cx="1364.7" cy="850.6" r="1.3" fill="#4676BC"/>
<line x1="1364.7" y1="850.6" x2="1382.53" y2="860.47" stroke="#4676BC" stroke-width="2.6" stroke-linecap="butt" /><circle cx="1364.7" cy="850.6" r="1.3" fill="#4676BC"/>
<line x1="1391.8" y1="876.2" x2="1391.8" y2="895.7" stroke="#4676BC" stroke-width="2.6" stroke-linecap="butt" /><circle cx="1391.8" cy="895.7" r="1.3" fill="#4676BC"/>
<line x1="1391.8" y1="895.7" x2="1373.97" y2="905.57" stroke="#4676BC" stroke-width="2.6" stroke-linecap="butt" /><circle cx="1391.8" cy="895.7" r="1.3" fill="#4676BC"/>
<line x1="1367.95" y1="850.6" x2="1367.95" y2="830.2" stroke="#4676BC" stroke-width="2.6" stroke-linecap="butt" /><line x1="1361.45" y1="850.6" x2="1361.45" y2="830.2" stroke="#4676BC" stroke-width="2.6" stroke-linecap="butt" />
<line x1="1390.23" y1="898.54" x2="1408.93" y2="908.89" stroke="#4676BC" stroke-width="2.6" stroke-linecap="butt" /><line x1="1393.37" y1="892.86" x2="1412.07" y2="903.21" stroke="#4676BC" stroke-width="2.6" stroke-linecap="butt" />
<line x1="1229.2" y1="865.6" x2="1202.1" y2="850.6" stroke="#4676BC" stroke-width="2.6" stroke-linecap="butt" /><circle cx="1229.2" cy="865.6" r="1.3" fill="#4676BC"/><circle cx="1202.1" cy="850.6" r="1.3" fill="#4676BC"/>
<line x1="1229.2" y1="895.7" x2="1202.1" y2="910.7" stroke="#4676BC" stroke-width="2.6" stroke-linecap="butt" /><circle cx="1229.2" cy="895.7" r="1.3" fill="#4676BC"/><circle cx="1202.1" cy="910.7" r="1.3" fill="#4676BC"/>
<line x1="1202.1" y1="850.6" x2="1183.55" y2="861.01" stroke="#4676BC" stroke-width="2.6" stroke-linecap="butt" /><circle cx="1202.1" cy="850.6" r="1.3" fill="#4676BC"/>
<line x1="1310.5" y1="920.9" x2="1310.5" y2="931.8" stroke="#4676BC" stroke-width="2.6" stroke-linecap="butt" />
<text x="1310.5" y="948.23" font-size="16" font-weight="normal" font-style="normal" text-anchor="middle" fill="#4676BC" >R</text>
<line x1="1319.77" y1="855.73" x2="1337.6" y2="865.6" stroke="#B25A98" stroke-width="2.6" stroke-linecap="butt" /><circle cx="1337.6" cy="865.6" r="1.3" fill="#B25A98"/>
<line x1="1337.6" y1="865.6" x2="1337.6" y2="895.7" stroke="#B25A98" stroke-width="2.6" stroke-linecap="butt" /><circle cx="1337.6" cy="865.6" r="1.3" fill="#B25A98"/><circle cx="1337.6" cy="895.7" r="1.3" fill="#B25A98"/>
<line x1="1330.9" y1="869.6" x2="1330.9" y2="891.7" stroke="#B25A98" stroke-width="2.6" stroke-linecap="butt" />
<line x1="1337.6" y1="895.7" x2="1355.43" y2="905.57" stroke="#B25A98" stroke-width="2.6" stroke-linecap="butt" /><circle cx="1337.6" cy="895.7" r="1.3" fill="#B25A98"/>
<line x1="1310.5" y1="839.2" x2="1310.5" y2="830.4" stroke="#B25A98" stroke-width="2.6" stroke-linecap="butt" />
<text x="1310.5" y="825.99" font-size="17.3" font-weight="normal" font-style="normal" text-anchor="middle" fill="#B25A98" >H</text>
<line x1="1364.7" y1="920.9" x2="1364.7" y2="931.8" stroke="#B25A98" stroke-width="2.6" stroke-linecap="butt" />
<text x="1364.7" y="948.39" font-size="17.3" font-weight="normal" font-style="normal" text-anchor="middle" fill="#B25A98" >H</text>
<line x1="1175" y1="875.2" x2="1175" y2="885.8" stroke="#4676BC" stroke-width="2.6" stroke-linecap="butt" />
<text x="1169.6" y="902.3" font-size="17.6" font-weight="normal" font-style="normal" text-anchor="start" fill="#4676BC" >CDO</text>
<text x="1310.5" y="856.79" font-size="17.3" font-weight="normal" font-style="normal" text-anchor="middle" fill="#B25A98" >N</text>
<text x="1310.5" y="916.89" font-size="17.3" font-weight="normal" font-style="normal" text-anchor="middle" fill="#4676BC" >N</text>
<text x="1364.7" y="916.89" font-size="17.3" font-weight="normal" font-style="normal" text-anchor="middle" fill="#B25A98" >N</text>
<text x="1385.7" y="871.79" font-size="17.3" font-weight="normal" font-style="normal" text-anchor="start" fill="#4676BC" >NH</text>
<text x="1364.7" y="826.59" font-size="17.3" font-weight="normal" font-style="normal" text-anchor="middle" fill="#4676BC" >O</text>
<text x="1418.9" y="916.89" font-size="17.3" font-weight="normal" font-style="normal" text-anchor="middle" fill="#4676BC" >O</text>
<text x="1175" y="872.1" font-size="17.6" font-weight="normal" font-style="normal" text-anchor="middle" fill="#4676BC" >S</text>
<line x1="1059.2" y1="1066.3" x2="1086.3" y2="1081.3" stroke="#37896D" stroke-width="2.6" stroke-linecap="butt" /><circle cx="1059.2" cy="1066.3" r="1.3" fill="#37896D"/><circle cx="1086.3" cy="1081.3" r="1.3" fill="#37896D"/>
<line x1="1086.3" y1="1081.3" x2="1086.3" y2="1111.4" stroke="#37896D" stroke-width="2.6" stroke-linecap="butt" /><circle cx="1086.3" cy="1081.3" r="1.3" fill="#37896D"/><circle cx="1086.3" cy="1111.4" r="1.3" fill="#37896D"/>
<line x1="1086.3" y1="1111.4" x2="1059.2" y2="1126.4" stroke="#37896D" stroke-width="2.6" stroke-linecap="butt" /><circle cx="1086.3" cy="1111.4" r="1.3" fill="#37896D"/><circle cx="1059.2" cy="1126.4" r="1.3" fill="#37896D"/>
<line x1="1059.2" y1="1126.4" x2="1032.1" y2="1111.4" stroke="#37896D" stroke-width="2.6" stroke-linecap="butt" /><circle cx="1059.2" cy="1126.4" r="1.3" fill="#37896D"/><circle cx="1032.1" cy="1111.4" r="1.3" fill="#37896D"/>
<line x1="1032.1" y1="1111.4" x2="1032.1" y2="1081.3" stroke="#37896D" stroke-width="2.6" stroke-linecap="butt" /><circle cx="1032.1" cy="1111.4" r="1.3" fill="#37896D"/><circle cx="1032.1" cy="1081.3" r="1.3" fill="#37896D"/>
<line x1="1032.1" y1="1081.3" x2="1059.2" y2="1066.3" stroke="#37896D" stroke-width="2.6" stroke-linecap="butt" /><circle cx="1032.1" cy="1081.3" r="1.3" fill="#37896D"/><circle cx="1059.2" cy="1066.3" r="1.3" fill="#37896D"/>
<line x1="1038.25" y1="1084.98" x2="1059.05" y2="1073.47" stroke="#37896D" stroke-width="2.6" stroke-linecap="butt" />
<line x1="1080.1" y1="1084.9" x2="1080.1" y2="1107.8" stroke="#37896D" stroke-width="2.6" stroke-linecap="butt" />
<line x1="1059.05" y1="1119.23" x2="1038.25" y2="1107.72" stroke="#37896D" stroke-width="2.6" stroke-linecap="butt" />
<line x1="1086.3" y1="1081.3" x2="1104.13" y2="1071.43" stroke="#37896D" stroke-width="2.6" stroke-linecap="butt" /><circle cx="1086.3" cy="1081.3" r="1.3" fill="#37896D"/>
<line x1="1086.3" y1="1111.4" x2="1104.13" y2="1121.27" stroke="#37896D" stroke-width="2.6" stroke-linecap="butt" /><circle cx="1086.3" cy="1111.4" r="1.3" fill="#37896D"/>
<line x1="1122.67" y1="1121.27" x2="1140.5" y2="1111.4" stroke="#37896D" stroke-width="2.6" stroke-linecap="butt" /><circle cx="1140.5" cy="1111.4" r="1.3" fill="#37896D"/>
<line x1="1140.5" y1="1081.3" x2="1167.6" y2="1066.3" stroke="#37896D" stroke-width="2.6" stroke-linecap="butt" /><circle cx="1140.5" cy="1081.3" r="1.3" fill="#37896D"/><circle cx="1167.6" cy="1066.3" r="1.3" fill="#37896D"/>
<line x1="1167.6" y1="1066.3" x2="1185.43" y2="1076.17" stroke="#37896D" stroke-width="2.6" stroke-linecap="butt" /><circle cx="1167.6" cy="1066.3" r="1.3" fill="#37896D"/>
<line x1="1194.7" y1="1091.9" x2="1194.7" y2="1111.4" stroke="#37896D" stroke-width="2.6" stroke-linecap="butt" /><circle cx="1194.7" cy="1111.4" r="1.3" fill="#37896D"/>
<line x1="1194.7" y1="1111.4" x2="1176.87" y2="1121.27" stroke="#37896D" stroke-width="2.6" stroke-linecap="butt" /><circle cx="1194.7" cy="1111.4" r="1.3" fill="#37896D"/>
<line x1="1170.85" y1="1066.3" x2="1170.85" y2="1045.9" stroke="#37896D" stroke-width="2.6" stroke-linecap="butt" /><line x1="1164.35" y1="1066.3" x2="1164.35" y2="1045.9" stroke="#37896D" stroke-width="2.6" stroke-linecap="butt" />
<line x1="1193.13" y1="1114.24" x2="1211.83" y2="1124.59" stroke="#37896D" stroke-width="2.6" stroke-linecap="butt" /><line x1="1196.27" y1="1108.56" x2="1214.97" y2="1118.91" stroke="#37896D" stroke-width="2.6" stroke-linecap="butt" />
<line x1="1032.1" y1="1081.3" x2="1005" y2="1066.3" stroke="#37896D" stroke-width="2.6" stroke-linecap="butt" /><circle cx="1032.1" cy="1081.3" r="1.3" fill="#37896D"/><circle cx="1005" cy="1066.3" r="1.3" fill="#37896D"/>
<line x1="1032.1" y1="1111.4" x2="1005" y2="1126.4" stroke="#37896D" stroke-width="2.6" stroke-linecap="butt" /><circle cx="1032.1" cy="1111.4" r="1.3" fill="#37896D"/><circle cx="1005" cy="1126.4" r="1.3" fill="#37896D"/>
<line x1="1005" y1="1066.3" x2="986.45" y2="1076.71" stroke="#37896D" stroke-width="2.6" stroke-linecap="butt" /><circle cx="1005" cy="1066.3" r="1.3" fill="#37896D"/>
<line x1="1113.4" y1="1136.6" x2="1113.4" y2="1147.5" stroke="#37896D" stroke-width="2.6" stroke-linecap="butt" />
<text x="1113.4" y="1163.93" font-size="16" font-weight="normal" font-style="normal" text-anchor="middle" fill="#37896D" >R</text>
<line x1="1122.67" y1="1071.43" x2="1140.5" y2="1081.3" stroke="#37896D" stroke-width="2.6" stroke-linecap="butt" /><circle cx="1140.5" cy="1081.3" r="1.3" fill="#37896D"/>
<line x1="1140.5" y1="1081.3" x2="1140.5" y2="1111.4" stroke="#37896D" stroke-width="2.6" stroke-linecap="butt" /><circle cx="1140.5" cy="1081.3" r="1.3" fill="#37896D"/><circle cx="1140.5" cy="1111.4" r="1.3" fill="#37896D"/>
<line x1="1140.5" y1="1111.4" x2="1158.33" y2="1121.27" stroke="#37896D" stroke-width="2.6" stroke-linecap="butt" /><circle cx="1140.5" cy="1111.4" r="1.3" fill="#37896D"/>
<line x1="1146.35" y1="1107.44" x2="1160.59" y2="1115.32" stroke="#37896D" stroke-width="2.6" stroke-linecap="butt" />
<line x1="1113.4" y1="1055.1" x2="1113.4" y2="1046.3" stroke="#37896D" stroke-width="2.6" stroke-linecap="butt" />
<text x="1113.4" y="1041.89" font-size="17.3" font-weight="normal" font-style="normal" text-anchor="middle" fill="#37896D" >H</text>
<circle cx="1140.3" cy="1072.8" r="2.9" fill="#37896D"/>
<line x1="977.9" y1="1090.9" x2="977.9" y2="1101.5" stroke="#37896D" stroke-width="2.6" stroke-linecap="butt" />
<text x="972.5" y="1118" font-size="17.6" font-weight="normal" font-style="normal" text-anchor="start" fill="#37896D" >CDO</text>
<text x="1113.4" y="1072.49" font-size="17.3" font-weight="normal" font-style="normal" text-anchor="middle" fill="#37896D" >N</text>
<text x="1113.4" y="1132.59" font-size="17.3" font-weight="normal" font-style="normal" text-anchor="middle" fill="#37896D" >N</text>
<text x="1167.6" y="1132.59" font-size="17.3" font-weight="normal" font-style="normal" text-anchor="middle" fill="#37896D" >N</text>
<text x="1188.6" y="1087.49" font-size="17.3" font-weight="normal" font-style="normal" text-anchor="start" fill="#37896D" >NH</text>
<text x="1167.6" y="1042.29" font-size="17.3" font-weight="normal" font-style="normal" text-anchor="middle" fill="#37896D" >O</text>
<text x="1221.8" y="1132.59" font-size="17.3" font-weight="normal" font-style="normal" text-anchor="middle" fill="#37896D" >O</text>
<text x="977.9" y="1087.8" font-size="17.6" font-weight="normal" font-style="normal" text-anchor="middle" fill="#37896D" >S</text>
<text x="951.3" y="950.6" font-size="29.1" font-weight="bold" fill="#8A2A83">FMN<tspan font-size="22" dy="6.8" dx="-0.3">ox</tspan></text>
<text x="1197.5" y="948.8" font-size="28.7" font-weight="bold" fill="#4676BC">FMN<tspan font-size="21.5" dy="6.6" dx="1.3">red</tspan></text>
<text x="1111.2" y="1188.2" font-size="26.3" font-weight="bold" font-style="normal" text-anchor="middle" fill="#37896D" >neutral flavin semiquinone</text>
<path d="M1247.23,945.14 C1243.88,948.72 1234.83,960.55 1227.12,966.65 C1219.41,972.75 1210.03,977.71 1200.98,981.73 C1191.93,985.76 1182.21,988.6 1172.83,990.78 C1163.44,992.96 1149.37,994.13 1144.67,994.8 L1139.65,992.79 C1143.17,994.74 1152.88,1001 1160.76,1004.46 C1168.64,1007.91 1178.52,1011.26 1186.9,1013.5 C1195.28,1015.75 1207.01,1017.19 1211.03,1017.93 C1215.22,1016.35 1231.31,1010.49 1241.19,1005.46 C1251.08,1000.43 1260.63,994.4 1269.35,988.37 C1278.06,982.34 1289.46,972.45 1293.48,969.27 L1241.19,979.32 Z" fill="#A3B9E3" fill-opacity="0.6" stroke="#AEAEAE" stroke-opacity="0.85" stroke-width="2.7" stroke-linejoin="miter"/>
<path d="M1046.54,936.09 L1133.61,939.71 L1109.48,953.18 C1110.49,955.36 1112.83,961.89 1115.52,966.25 C1118.2,970.61 1121.55,974.9 1125.57,979.32 C1129.59,983.74 1133.78,988.6 1139.65,992.79 C1145.51,996.98 1152.88,1001 1160.76,1004.46 C1168.64,1007.91 1178.52,1011.26 1186.9,1013.5 C1195.28,1015.75 1207.01,1017.19 1211.03,1017.93 C1206.17,1019.6 1195.11,1023.39 1186.9,1024.97 C1178.69,1026.54 1169.81,1028.05 1160.76,1027.98 C1151.71,1027.92 1141.99,1026.98 1132.61,1024.56 C1123.22,1022.15 1113.17,1018.2 1104.46,1013.5 C1095.74,1008.81 1087.03,1002.28 1080.33,996.41 C1073.62,990.55 1066.92,981.33 1064.24,978.31 L1041.11,992.39 Z" fill="#C0A5C6" fill-opacity="0.6" stroke="#AEAEAE" stroke-opacity="0.85" stroke-width="2.7" stroke-linejoin="miter"/>
<path d="M1139.65,992.79 C1143.17,994.74 1152.88,1001 1160.76,1004.46 C1168.64,1007.91 1178.52,1011.26 1186.9,1013.5 C1195.28,1015.75 1207.01,1017.19 1211.03,1017.93" fill="none" stroke="#9A979E" stroke-opacity="0.6" stroke-width="2.4"/>
<text x="870.2" y="1015" font-size="28.6" fill="#000">-H</text>
<text x="901.2" y="1021.8" font-size="20.6" fill="#000">2</text>
<text x="912.6" y="1015" font-size="28.6" fill="#000">O</text>
<text x="936.2" y="1021.8" font-size="20.6" fill="#000">2</text>
<text x="947.6" y="1015" font-size="28.6" fill="#000">,</text>
<text x="963.4" y="1015" font-size="28.6" fill="#000">+H</text>
<text x="1258" y="1022.5" font-size="28.6" fill="#000">-e</text>
<text x="1284.2" y="1012.6" font-size="20.6" fill="#000">-</text>
<text x="1290.7" y="1022.5" font-size="28.6" fill="#000">,</text>
<text x="1307.7" y="1022.5" font-size="28.6" fill="#000">-H</text>
<text x="1338" y="1015.2" font-size="22" fill="#000">+</text>
<text x="1064.8" y="1041.6" font-size="17.6" fill="#000">O<tspan font-size="13" dy="3.9">2</tspan></text>
<line x1="1069.2" y1="1020.2" x2="1082.8" y2="1020.2" stroke="#000" stroke-width="2.5" stroke-linecap="butt" />
<circle cx="1088.2" cy="1020.2" r="2.8" fill="#000"/>
</svg>
</body></html>
